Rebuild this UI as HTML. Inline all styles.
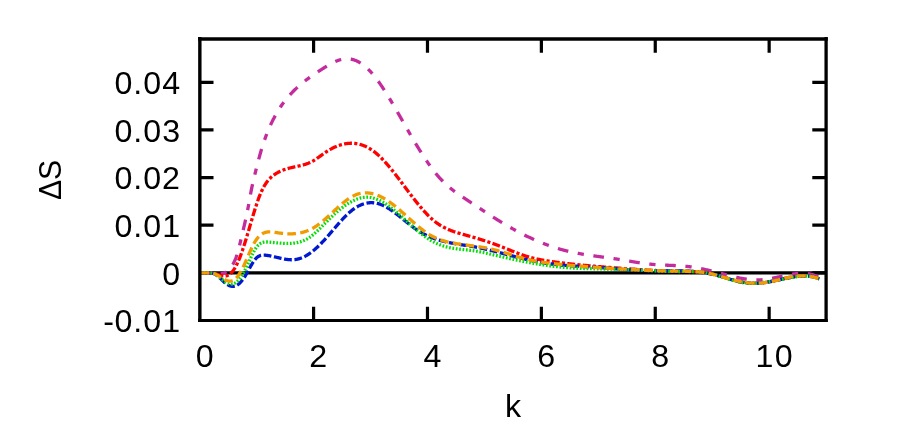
<!DOCTYPE html>
<html lang="en"><head><meta charset="utf-8"><title>ΔS vs k</title>
<style>
html,body{margin:0;padding:0;background:#fff;}
body{width:905px;height:429px;overflow:hidden;}
svg{display:block;will-change:transform;}
text{font-family:"Liberation Sans",sans-serif;font-size:32.2px;fill:#000;}
.c{fill:none;stroke-linecap:butt;stroke-linejoin:round;}
.f{fill:none;stroke:#000;stroke-width:3.2;stroke-linecap:butt;stroke-linejoin:miter;}
</style></head><body>
<svg width="905" height="429" viewBox="0 0 905 429">
<rect width="905" height="429" fill="#fff"/>
<path class="f" d="M313.59,320.45 v-13.8 M313.59,38.85 v13.8 M427.48,320.45 v-13.8 M427.48,38.85 v13.8 M541.37,320.45 v-13.8 M541.37,38.85 v13.8 M655.26,320.45 v-13.8 M655.26,38.85 v13.8 M769.15,320.45 v-13.8 M769.15,38.85 v13.8 M199.7,272.85 h13.8 M826.1,272.85 h-13.8 M199.7,225.21 h13.8 M826.1,225.21 h-13.8 M199.7,177.57 h13.8 M826.1,177.57 h-13.8 M199.7,129.93 h13.8 M826.1,129.93 h-13.8 M199.7,82.29 h13.8 M826.1,82.29 h-13.8"/>
<path class="f" style="stroke-width:3.3" d="M199.7,272.85 H826.1"/>
<path class="c" stroke="#c42c9e" stroke-width="3.3" stroke-dasharray="10.7 9.63 6.25 9.62" stroke-dashoffset="0" d="M200.30,272.85 L200.80,272.85 L201.30,272.85 L201.80,272.85 L202.30,272.85 L202.80,272.85 L203.30,272.85 L203.80,272.85 L204.30,272.85 L204.80,272.85 L205.30,272.85 L205.80,272.85 L206.30,272.85 L206.80,272.85 L207.30,272.85 L207.80,272.85 L208.30,272.85 L208.80,272.85 L209.30,272.85 L209.80,272.85 L210.30,272.85 L210.80,272.86 L211.30,272.87 L211.80,272.88 L212.30,272.90 L212.80,272.93 L213.30,272.96 L213.80,273.00 L214.30,273.05 L214.80,273.11 L215.30,273.18 L215.80,273.24 L216.30,273.31 L216.80,273.38 L217.30,273.44 L217.80,273.51 L218.30,273.56 L218.80,273.61 L219.30,273.64 L219.80,273.66 L220.30,273.67 L220.80,273.66 L221.30,273.63 L221.80,273.58 L222.30,273.50 L222.80,273.40 L223.30,273.27 L223.80,273.12 L224.30,272.93 L224.80,272.71 L225.30,272.45 L225.80,272.17 L226.30,271.85 L226.80,271.49 L227.30,271.10 L227.80,270.67 L228.30,270.21 L228.80,269.71 L229.30,269.17 L229.80,268.60 L230.30,267.99 L230.80,267.33 L231.30,266.64 L231.80,265.91 L232.30,265.13 L232.80,264.32 L233.30,263.46 L233.80,262.54 L234.30,261.55 L234.80,260.49 L235.30,259.33 L235.80,258.08 L236.30,256.71 L236.80,255.23 L237.30,253.62 L237.80,251.91 L238.30,250.12 L238.80,248.24 L239.30,246.30 L239.80,244.31 L240.30,242.29 L240.80,240.23 L241.30,238.15 L241.80,236.05 L242.30,233.93 L242.80,231.79 L243.30,229.64 L243.80,227.47 L244.30,225.30 L244.80,223.11 L245.30,220.91 L245.80,218.67 L246.30,216.38 L246.80,214.03 L247.30,211.62 L247.80,209.11 L248.30,206.51 L248.80,203.82 L249.30,201.05 L249.80,198.26 L250.30,195.49 L250.80,192.77 L251.30,190.16 L251.80,187.68 L252.30,185.31 L252.80,183.04 L253.30,180.85 L253.80,178.73 L254.30,176.67 L254.80,174.64 L255.30,172.64 L255.80,170.64 L256.30,168.65 L256.80,166.66 L257.30,164.70 L257.80,162.75 L258.30,160.82 L258.80,158.93 L259.30,157.07 L259.80,155.25 L260.30,153.47 L260.80,151.73 L261.30,150.04 L261.80,148.38 L262.30,146.77 L262.80,145.20 L263.30,143.66 L263.80,142.16 L264.30,140.70 L264.80,139.27 L265.30,137.88 L265.80,136.52 L266.30,135.19 L266.80,133.89 L267.30,132.62 L267.80,131.38 L268.30,130.17 L268.80,128.98 L269.30,127.82 L269.80,126.69 L270.30,125.58 L270.80,124.49 L271.30,123.42 L271.80,122.38 L272.30,121.35 L272.80,120.35 L273.30,119.36 L273.80,118.39 L274.30,117.43 L274.80,116.50 L275.30,115.58 L275.80,114.67 L276.30,113.79 L276.80,112.92 L277.30,112.06 L277.80,111.22 L278.30,110.40 L278.80,109.59 L279.30,108.80 L279.80,108.02 L280.30,107.25 L280.80,106.50 L281.30,105.76 L281.80,105.03 L282.30,104.32 L282.80,103.62 L283.30,102.93 L283.80,102.26 L284.30,101.59 L284.80,100.94 L285.30,100.30 L285.80,99.67 L286.30,99.04 L286.80,98.43 L287.30,97.83 L287.80,97.24 L288.30,96.66 L288.80,96.08 L289.30,95.52 L289.80,94.96 L290.30,94.41 L290.80,93.87 L291.30,93.34 L291.80,92.81 L292.30,92.29 L292.80,91.78 L293.30,91.27 L293.80,90.77 L294.30,90.28 L294.80,89.79 L295.30,89.31 L295.80,88.83 L296.30,88.36 L296.80,87.89 L297.30,87.43 L297.80,86.97 L298.30,86.52 L298.80,86.08 L299.30,85.64 L299.80,85.20 L300.30,84.77 L300.80,84.34 L301.30,83.92 L301.80,83.51 L302.30,83.09 L302.80,82.68 L303.30,82.28 L303.80,81.88 L304.30,81.48 L304.80,81.09 L305.30,80.70 L305.80,80.31 L306.30,79.93 L306.80,79.55 L307.30,79.18 L307.80,78.81 L308.30,78.44 L308.80,78.07 L309.30,77.71 L309.80,77.35 L310.30,76.99 L310.80,76.64 L311.30,76.28 L311.80,75.93 L312.30,75.59 L312.80,75.24 L313.30,74.90 L313.80,74.56 L314.30,74.22 L314.80,73.88 L315.30,73.54 L315.80,73.21 L316.30,72.87 L316.80,72.54 L317.30,72.21 L317.80,71.88 L318.30,71.55 L318.80,71.23 L319.30,70.90 L319.80,70.57 L320.30,70.25 L320.80,69.92 L321.30,69.60 L321.80,69.28 L322.30,68.95 L322.80,68.63 L323.30,68.31 L323.80,67.99 L324.30,67.67 L324.80,67.36 L325.30,67.04 L325.80,66.73 L326.30,66.42 L326.80,66.12 L327.30,65.81 L327.80,65.51 L328.30,65.22 L328.80,64.92 L329.30,64.63 L329.80,64.35 L330.30,64.07 L330.80,63.79 L331.30,63.52 L331.80,63.25 L332.30,62.99 L332.80,62.74 L333.30,62.49 L333.80,62.24 L334.30,62.01 L334.80,61.78 L335.30,61.55 L335.80,61.33 L336.30,61.12 L336.80,60.92 L337.30,60.72 L337.80,60.54 L338.30,60.36 L338.80,60.18 L339.30,60.02 L339.80,59.87 L340.30,59.72 L340.80,59.58 L341.30,59.46 L341.80,59.34 L342.30,59.23 L342.80,59.13 L343.30,59.05 L343.80,58.97 L344.30,58.90 L344.80,58.85 L345.30,58.80 L345.80,58.77 L346.30,58.75 L346.80,58.74 L347.30,58.75 L347.80,58.76 L348.30,58.79 L348.80,58.83 L349.30,58.88 L349.80,58.94 L350.30,59.01 L350.80,59.10 L351.30,59.19 L351.80,59.30 L352.30,59.42 L352.80,59.55 L353.30,59.70 L353.80,59.85 L354.30,60.02 L354.80,60.19 L355.30,60.38 L355.80,60.59 L356.30,60.80 L356.80,61.02 L357.30,61.26 L357.80,61.51 L358.30,61.77 L358.80,62.04 L359.30,62.32 L359.80,62.61 L360.30,62.92 L360.80,63.23 L361.30,63.56 L361.80,63.90 L362.30,64.25 L362.80,64.61 L363.30,64.99 L363.80,65.37 L364.30,65.77 L364.80,66.17 L365.30,66.59 L365.80,67.02 L366.30,67.46 L366.80,67.92 L367.30,68.38 L367.80,68.85 L368.30,69.34 L368.80,69.84 L369.30,70.35 L369.80,70.87 L370.30,71.40 L370.80,71.94 L371.30,72.49 L371.80,73.06 L372.30,73.63 L372.80,74.22 L373.30,74.81 L373.80,75.42 L374.30,76.03 L374.80,76.65 L375.30,77.29 L375.80,77.93 L376.30,78.58 L376.80,79.24 L377.30,79.91 L377.80,80.59 L378.30,81.27 L378.80,81.97 L379.30,82.67 L379.80,83.38 L380.30,84.10 L380.80,84.82 L381.30,85.56 L381.80,86.30 L382.30,87.04 L382.80,87.80 L383.30,88.56 L383.80,89.32 L384.30,90.09 L384.80,90.87 L385.30,91.66 L385.80,92.45 L386.30,93.24 L386.80,94.04 L387.30,94.85 L387.80,95.66 L388.30,96.47 L388.80,97.29 L389.30,98.12 L389.80,98.95 L390.30,99.78 L390.80,100.62 L391.30,101.46 L391.80,102.30 L392.30,103.15 L392.80,104.00 L393.30,104.85 L393.80,105.71 L394.30,106.57 L394.80,107.43 L395.30,108.29 L395.80,109.16 L396.30,110.02 L396.80,110.89 L397.30,111.76 L397.80,112.64 L398.30,113.51 L398.80,114.38 L399.30,115.26 L399.80,116.13 L400.30,117.01 L400.80,117.89 L401.30,118.77 L401.80,119.64 L402.30,120.52 L402.80,121.40 L403.30,122.27 L403.80,123.15 L404.30,124.03 L404.80,124.90 L405.30,125.78 L405.80,126.65 L406.30,127.53 L406.80,128.40 L407.30,129.27 L407.80,130.14 L408.30,131.01 L408.80,131.88 L409.30,132.74 L409.80,133.61 L410.30,134.47 L410.80,135.33 L411.30,136.19 L411.80,137.04 L412.30,137.90 L412.80,138.75 L413.30,139.60 L413.80,140.45 L414.30,141.29 L414.80,142.13 L415.30,142.97 L415.80,143.80 L416.30,144.64 L416.80,145.46 L417.30,146.29 L417.80,147.11 L418.30,147.93 L418.80,148.75 L419.30,149.56 L419.80,150.36 L420.30,151.17 L420.80,151.96 L421.30,152.76 L421.80,153.55 L422.30,154.33 L422.80,155.12 L423.30,155.89 L423.80,156.66 L424.30,157.43 L424.80,158.19 L425.30,158.95 L425.80,159.70 L426.30,160.44 L426.80,161.18 L427.30,161.92 L427.80,162.64 L428.30,163.37 L428.80,164.08 L429.30,164.79 L429.80,165.50 L430.30,166.20 L430.80,166.89 L431.30,167.57 L431.80,168.25 L432.30,168.92 L432.80,169.59 L433.30,170.24 L433.80,170.89 L434.30,171.54 L434.80,172.17 L435.30,172.80 L435.80,173.42 L436.30,174.04 L436.80,174.64 L437.30,175.24 L437.80,175.83 L438.30,176.41 L438.80,176.98 L439.30,177.55 L439.80,178.10 L440.30,178.65 L440.80,179.19 L441.30,179.72 L441.80,180.24 L442.30,180.76 L442.80,181.27 L443.30,181.77 L443.80,182.26 L444.30,182.75 L444.80,183.23 L445.30,183.70 L445.80,184.16 L446.30,184.62 L446.80,185.07 L447.30,185.52 L447.80,185.96 L448.30,186.39 L448.80,186.82 L449.30,187.25 L449.80,187.66 L450.30,188.08 L450.80,188.48 L451.30,188.89 L451.80,189.28 L452.30,189.68 L452.80,190.07 L453.30,190.45 L453.80,190.83 L454.30,191.21 L454.80,191.58 L455.30,191.95 L455.80,192.31 L456.30,192.67 L456.80,193.03 L457.30,193.39 L457.80,193.74 L458.30,194.09 L458.80,194.44 L459.30,194.78 L459.80,195.13 L460.30,195.47 L460.80,195.81 L461.30,196.14 L461.80,196.48 L462.30,196.81 L462.80,197.15 L463.30,197.48 L463.80,197.81 L464.30,198.14 L464.80,198.47 L465.30,198.80 L465.80,199.13 L466.30,199.46 L466.80,199.79 L467.30,200.11 L467.80,200.44 L468.30,200.77 L468.80,201.10 L469.30,201.43 L469.80,201.76 L470.30,202.10 L470.80,202.43 L471.30,202.76 L471.80,203.09 L472.30,203.42 L472.80,203.75 L473.30,204.08 L473.80,204.42 L474.30,204.75 L474.80,205.08 L475.30,205.41 L475.80,205.74 L476.30,206.08 L476.80,206.41 L477.30,206.74 L477.80,207.07 L478.30,207.41 L478.80,207.74 L479.30,208.07 L479.80,208.40 L480.30,208.73 L480.80,209.06 L481.30,209.39 L481.80,209.72 L482.30,210.05 L482.80,210.38 L483.30,210.71 L483.80,211.04 L484.30,211.37 L484.80,211.70 L485.30,212.03 L485.80,212.36 L486.30,212.68 L486.80,213.01 L487.30,213.34 L487.80,213.66 L488.30,213.99 L488.80,214.31 L489.30,214.64 L489.80,214.96 L490.30,215.28 L490.80,215.61 L491.30,215.93 L491.80,216.25 L492.30,216.57 L492.80,216.89 L493.30,217.21 L493.80,217.53 L494.30,217.84 L494.80,218.16 L495.30,218.47 L495.80,218.79 L496.30,219.10 L496.80,219.42 L497.30,219.73 L497.80,220.04 L498.30,220.35 L498.80,220.66 L499.30,220.96 L499.80,221.27 L500.30,221.58 L500.80,221.88 L501.30,222.19 L501.80,222.49 L502.30,222.79 L502.80,223.09 L503.30,223.39 L503.80,223.69 L504.30,223.98 L504.80,224.28 L505.30,224.58 L505.80,224.87 L506.30,225.16 L506.80,225.45 L507.30,225.74 L507.80,226.03 L508.30,226.32 L508.80,226.61 L509.30,226.90 L509.80,227.18 L510.30,227.46 L510.80,227.75 L511.30,228.03 L511.80,228.31 L512.30,228.59 L512.80,228.87 L513.30,229.14 L513.80,229.42 L514.30,229.69 L514.80,229.97 L515.30,230.24 L515.80,230.51 L516.30,230.78 L516.80,231.05 L517.30,231.32 L517.80,231.58 L518.30,231.85 L518.80,232.11 L519.30,232.37 L519.80,232.63 L520.30,232.89 L520.80,233.15 L521.30,233.41 L521.80,233.67 L522.30,233.92 L522.80,234.17 L523.30,234.43 L523.80,234.68 L524.30,234.93 L524.80,235.18 L525.30,235.42 L525.80,235.67 L526.30,235.91 L526.80,236.16 L527.30,236.40 L527.80,236.64 L528.30,236.88 L528.80,237.12 L529.30,237.35 L529.80,237.59 L530.30,237.82 L530.80,238.06 L531.30,238.29 L531.80,238.52 L532.30,238.75 L532.80,238.97 L533.30,239.20 L533.80,239.42 L534.30,239.65 L534.80,239.87 L535.30,240.09 L535.80,240.31 L536.30,240.53 L536.80,240.74 L537.30,240.96 L537.80,241.17 L538.30,241.38 L538.80,241.59 L539.30,241.80 L539.80,242.01 L540.30,242.21 L540.80,242.42 L541.30,242.62 L541.80,242.82 L542.30,243.02 L542.80,243.22 L543.30,243.42 L543.80,243.62 L544.30,243.81 L544.80,244.00 L545.30,244.20 L545.80,244.39 L546.30,244.57 L546.80,244.76 L547.30,244.95 L547.80,245.13 L548.30,245.31 L548.80,245.49 L549.30,245.67 L549.80,245.85 L550.30,246.03 L550.80,246.20 L551.30,246.37 L551.80,246.55 L552.30,246.72 L552.80,246.88 L553.30,247.05 L553.80,247.22 L554.30,247.38 L554.80,247.54 L555.30,247.70 L555.80,247.86 L556.30,248.02 L556.80,248.17 L557.30,248.33 L557.80,248.48 L558.30,248.63 L558.80,248.78 L559.30,248.93 L559.80,249.07 L560.30,249.22 L560.80,249.36 L561.30,249.50 L561.80,249.64 L562.30,249.78 L562.80,249.91 L563.30,250.05 L563.80,250.18 L564.30,250.31 L564.80,250.44 L565.30,250.57 L565.80,250.69 L566.30,250.82 L566.80,250.94 L567.30,251.06 L567.80,251.18 L568.30,251.30 L568.80,251.42 L569.30,251.53 L569.80,251.65 L570.30,251.76 L570.80,251.87 L571.30,251.98 L571.80,252.09 L572.30,252.20 L572.80,252.30 L573.30,252.41 L573.80,252.51 L574.30,252.61 L574.80,252.71 L575.30,252.81 L575.80,252.91 L576.30,253.01 L576.80,253.10 L577.30,253.20 L577.80,253.29 L578.30,253.39 L578.80,253.48 L579.30,253.57 L579.80,253.66 L580.30,253.75 L580.80,253.83 L581.30,253.92 L581.80,254.01 L582.30,254.09 L582.80,254.18 L583.30,254.26 L583.80,254.34 L584.30,254.43 L584.80,254.51 L585.30,254.59 L585.80,254.67 L586.30,254.74 L586.80,254.82 L587.30,254.90 L587.80,254.98 L588.30,255.05 L588.80,255.13 L589.30,255.20 L589.80,255.28 L590.30,255.35 L590.80,255.43 L591.30,255.50 L591.80,255.57 L592.30,255.64 L592.80,255.71 L593.30,255.79 L593.80,255.86 L594.30,255.93 L594.80,256.00 L595.30,256.07 L595.80,256.14 L596.30,256.20 L596.80,256.27 L597.30,256.34 L597.80,256.41 L598.30,256.48 L598.80,256.55 L599.30,256.61 L599.80,256.68 L600.30,256.75 L600.80,256.82 L601.30,256.89 L601.80,256.95 L602.30,257.02 L602.80,257.09 L603.30,257.16 L603.80,257.22 L604.30,257.29 L604.80,257.36 L605.30,257.43 L605.80,257.49 L606.30,257.56 L606.80,257.63 L607.30,257.70 L607.80,257.77 L608.30,257.84 L608.80,257.91 L609.30,257.98 L609.80,258.04 L610.30,258.12 L610.80,258.19 L611.30,258.26 L611.80,258.33 L612.30,258.40 L612.80,258.47 L613.30,258.54 L613.80,258.62 L614.30,258.69 L614.80,258.77 L615.30,258.84 L615.80,258.92 L616.30,258.99 L616.80,259.07 L617.30,259.14 L617.80,259.22 L618.30,259.30 L618.80,259.38 L619.30,259.46 L619.80,259.54 L620.30,259.62 L620.80,259.70 L621.30,259.78 L621.80,259.86 L622.30,259.95 L622.80,260.03 L623.30,260.11 L623.80,260.20 L624.30,260.28 L624.80,260.36 L625.30,260.45 L625.80,260.53 L626.30,260.61 L626.80,260.70 L627.30,260.78 L627.80,260.87 L628.30,260.95 L628.80,261.04 L629.30,261.12 L629.80,261.20 L630.30,261.29 L630.80,261.37 L631.30,261.45 L631.80,261.54 L632.30,261.62 L632.80,261.70 L633.30,261.79 L633.80,261.87 L634.30,261.95 L634.80,262.03 L635.30,262.11 L635.80,262.19 L636.30,262.27 L636.80,262.35 L637.30,262.43 L637.80,262.51 L638.30,262.58 L638.80,262.66 L639.30,262.74 L639.80,262.81 L640.30,262.89 L640.80,262.96 L641.30,263.03 L641.80,263.10 L642.30,263.17 L642.80,263.24 L643.30,263.31 L643.80,263.38 L644.30,263.45 L644.80,263.51 L645.30,263.58 L645.80,263.64 L646.30,263.70 L646.80,263.77 L647.30,263.83 L647.80,263.88 L648.30,263.94 L648.80,264.00 L649.30,264.05 L649.80,264.11 L650.30,264.16 L650.80,264.21 L651.30,264.26 L651.80,264.30 L652.30,264.35 L652.80,264.39 L653.30,264.44 L653.80,264.48 L654.30,264.52 L654.80,264.56 L655.30,264.59 L655.80,264.63 L656.30,264.67 L656.80,264.70 L657.30,264.73 L657.80,264.76 L658.30,264.79 L658.80,264.82 L659.30,264.85 L659.80,264.88 L660.30,264.91 L660.80,264.93 L661.30,264.96 L661.80,264.98 L662.30,265.01 L662.80,265.03 L663.30,265.05 L663.80,265.08 L664.30,265.10 L664.80,265.12 L665.30,265.14 L665.80,265.16 L666.30,265.18 L666.80,265.20 L667.30,265.23 L667.80,265.25 L668.30,265.27 L668.80,265.29 L669.30,265.31 L669.80,265.33 L670.30,265.35 L670.80,265.37 L671.30,265.39 L671.80,265.41 L672.30,265.43 L672.80,265.45 L673.30,265.48 L673.80,265.50 L674.30,265.52 L674.80,265.55 L675.30,265.57 L675.80,265.59 L676.30,265.62 L676.80,265.65 L677.30,265.67 L677.80,265.70 L678.30,265.73 L678.80,265.76 L679.30,265.79 L679.80,265.82 L680.30,265.86 L680.80,265.89 L681.30,265.93 L681.80,265.96 L682.30,266.00 L682.80,266.04 L683.30,266.08 L683.80,266.12 L684.30,266.16 L684.80,266.21 L685.30,266.26 L685.80,266.30 L686.30,266.35 L686.80,266.40 L687.30,266.46 L687.80,266.51 L688.30,266.57 L688.80,266.63 L689.30,266.69 L689.80,266.75 L690.30,266.82 L690.80,266.88 L691.30,266.95 L691.80,267.02 L692.30,267.09 L692.80,267.17 L693.30,267.24 L693.80,267.32 L694.30,267.40 L694.80,267.48 L695.30,267.56 L695.80,267.65 L696.30,267.73 L696.80,267.82 L697.30,267.91 L697.80,268.00 L698.30,268.09 L698.80,268.18 L699.30,268.28 L699.80,268.37 L700.30,268.47 L700.80,268.57 L701.30,268.67 L701.80,268.77 L702.30,268.88 L702.80,268.98 L703.30,269.09 L703.80,269.19 L704.30,269.30 L704.80,269.41 L705.30,269.52 L705.80,269.63 L706.30,269.74 L706.80,269.86 L707.30,269.97 L707.80,270.09 L708.30,270.20 L708.80,270.32 L709.30,270.44 L709.80,270.56 L710.30,270.68 L710.80,270.80 L711.30,270.92 L711.80,271.04 L712.30,271.16 L712.80,271.29 L713.30,271.41 L713.80,271.53 L714.30,271.66 L714.80,271.79 L715.30,271.91 L715.80,272.04 L716.30,272.17 L716.80,272.29 L717.30,272.42 L717.80,272.55 L718.30,272.68 L718.80,272.81 L719.30,272.94 L719.80,273.07 L720.30,273.20 L720.80,273.33 L721.30,273.46 L721.80,273.59 L722.30,273.72 L722.80,273.85 L723.30,273.98 L723.80,274.11 L724.30,274.25 L724.80,274.38 L725.30,274.51 L725.80,274.64 L726.30,274.77 L726.80,274.90 L727.30,275.03 L727.80,275.16 L728.30,275.29 L728.80,275.42 L729.30,275.55 L729.80,275.68 L730.30,275.80 L730.80,275.93 L731.30,276.05 L731.80,276.18 L732.30,276.30 L732.80,276.43 L733.30,276.55 L733.80,276.67 L734.30,276.79 L734.80,276.91 L735.30,277.02 L735.80,277.14 L736.30,277.25 L736.80,277.37 L737.30,277.48 L737.80,277.59 L738.30,277.69 L738.80,277.80 L739.30,277.91 L739.80,278.01 L740.30,278.11 L740.80,278.21 L741.30,278.30 L741.80,278.40 L742.30,278.49 L742.80,278.58 L743.30,278.67 L743.80,278.75 L744.30,278.84 L744.80,278.92 L745.30,279.00 L745.80,279.07 L746.30,279.14 L746.80,279.21 L747.30,279.28 L747.80,279.35 L748.30,279.41 L748.80,279.47 L749.30,279.52 L749.80,279.57 L750.30,279.62 L750.80,279.67 L751.30,279.71 L751.80,279.75 L752.30,279.79 L752.80,279.82 L753.30,279.85 L753.80,279.87 L754.30,279.90 L754.80,279.92 L755.30,279.93 L755.80,279.94 L756.30,279.95 L756.80,279.95 L757.30,279.95 L757.80,279.94 L758.30,279.93 L758.80,279.92 L759.30,279.90 L759.80,279.88 L760.30,279.85 L760.80,279.82 L761.30,279.79 L761.80,279.75 L762.30,279.71 L762.80,279.66 L763.30,279.61 L763.80,279.56 L764.30,279.50 L764.80,279.44 L765.30,279.38 L765.80,279.31 L766.30,279.24 L766.80,279.17 L767.30,279.10 L767.80,279.02 L768.30,278.94 L768.80,278.86 L769.30,278.77 L769.80,278.69 L770.30,278.60 L770.80,278.51 L771.30,278.41 L771.80,278.32 L772.30,278.22 L772.80,278.13 L773.30,278.03 L773.80,277.92 L774.30,277.82 L774.80,277.72 L775.30,277.62 L775.80,277.51 L776.30,277.40 L776.80,277.30 L777.30,277.19 L777.80,277.08 L778.30,276.97 L778.80,276.87 L779.30,276.76 L779.80,276.65 L780.30,276.54 L780.80,276.43 L781.30,276.32 L781.80,276.21 L782.30,276.10 L782.80,276.00 L783.30,275.89 L783.80,275.78 L784.30,275.68 L784.80,275.57 L785.30,275.47 L785.80,275.37 L786.30,275.27 L786.80,275.17 L787.30,275.07 L787.80,274.97 L788.30,274.88 L788.80,274.79 L789.30,274.69 L789.80,274.61 L790.30,274.52 L790.80,274.43 L791.30,274.35 L791.80,274.27 L792.30,274.19 L792.80,274.12 L793.30,274.05 L793.80,273.98 L794.30,273.91 L794.80,273.85 L795.30,273.79 L795.80,273.73 L796.30,273.68 L796.80,273.63 L797.30,273.58 L797.80,273.54 L798.30,273.50 L798.80,273.46 L799.30,273.43 L799.80,273.40 L800.30,273.38 L800.80,273.37 L801.30,273.35 L801.80,273.35 L802.30,273.34 L802.80,273.35 L803.30,273.36 L803.80,273.37 L804.30,273.39 L804.80,273.42 L805.30,273.45 L805.80,273.49 L806.30,273.53 L806.80,273.58 L807.30,273.64 L807.80,273.71 L808.30,273.78 L808.80,273.86 L809.30,273.94 L809.80,274.04 L810.30,274.14 L810.80,274.25 L811.30,274.37 L811.80,274.49 L812.30,274.63 L812.80,274.77 L813.30,274.92 L813.80,275.08 L814.30,275.25 L814.80,275.43 L815.30,275.61 L815.80,275.81 L816.30,276.02 L816.80,276.23 L817.30,276.46 L817.80,276.69 L818.30,276.94 L818.80,277.20 L819.30,277.46"/>
<path class="c" stroke="#ff0000" stroke-width="3.3" stroke-dasharray="7.88 2.27 3.15 2.27" stroke-dashoffset="0" d="M200.30,272.85 L200.80,272.85 L201.30,272.85 L201.80,272.85 L202.30,272.85 L202.80,272.85 L203.30,272.85 L203.80,272.85 L204.30,272.85 L204.80,272.85 L205.30,272.85 L205.80,272.85 L206.30,272.85 L206.80,272.85 L207.30,272.85 L207.80,272.85 L208.30,272.84 L208.80,272.84 L209.30,272.84 L209.80,272.85 L210.30,272.86 L210.80,272.88 L211.30,272.90 L211.80,272.94 L212.30,272.98 L212.80,273.04 L213.30,273.12 L213.80,273.21 L214.30,273.31 L214.80,273.44 L215.30,273.58 L215.80,273.73 L216.30,273.89 L216.80,274.06 L217.30,274.24 L217.80,274.42 L218.30,274.60 L218.80,274.78 L219.30,274.96 L219.80,275.13 L220.30,275.30 L220.80,275.45 L221.30,275.59 L221.80,275.72 L222.30,275.84 L222.80,275.93 L223.30,276.00 L223.80,276.05 L224.30,276.08 L224.80,276.08 L225.30,276.05 L225.80,275.98 L226.30,275.88 L226.80,275.75 L227.30,275.58 L227.80,275.37 L228.30,275.12 L228.80,274.83 L229.30,274.50 L229.80,274.14 L230.30,273.73 L230.80,273.27 L231.30,272.78 L231.80,272.24 L232.30,271.66 L232.80,271.04 L233.30,270.37 L233.80,269.65 L234.30,268.89 L234.80,268.08 L235.30,267.22 L235.80,266.32 L236.30,265.38 L236.80,264.39 L237.30,263.35 L237.80,262.28 L238.30,261.16 L238.80,260.00 L239.30,258.80 L239.80,257.56 L240.30,256.28 L240.80,254.96 L241.30,253.61 L241.80,252.21 L242.30,250.78 L242.80,249.32 L243.30,247.83 L243.80,246.31 L244.30,244.76 L244.80,243.18 L245.30,241.58 L245.80,239.97 L246.30,238.33 L246.80,236.68 L247.30,235.01 L247.80,233.33 L248.30,231.65 L248.80,229.95 L249.30,228.25 L249.80,226.55 L250.30,224.85 L250.80,223.14 L251.30,221.44 L251.80,219.75 L252.30,218.07 L252.80,216.39 L253.30,214.73 L253.80,213.08 L254.30,211.45 L254.80,209.83 L255.30,208.24 L255.80,206.68 L256.30,205.14 L256.80,203.63 L257.30,202.15 L257.80,200.71 L258.30,199.31 L258.80,197.94 L259.30,196.62 L259.80,195.35 L260.30,194.12 L260.80,192.94 L261.30,191.81 L261.80,190.73 L262.30,189.68 L262.80,188.69 L263.30,187.73 L263.80,186.81 L264.30,185.94 L264.80,185.10 L265.30,184.30 L265.80,183.53 L266.30,182.80 L266.80,182.10 L267.30,181.44 L267.80,180.80 L268.30,180.19 L268.80,179.62 L269.30,179.06 L269.80,178.54 L270.30,178.03 L270.80,177.55 L271.30,177.09 L271.80,176.66 L272.30,176.24 L272.80,175.83 L273.30,175.45 L273.80,175.08 L274.30,174.72 L274.80,174.38 L275.30,174.04 L275.80,173.72 L276.30,173.41 L276.80,173.11 L277.30,172.82 L277.80,172.53 L278.30,172.26 L278.80,172.00 L279.30,171.75 L279.80,171.50 L280.30,171.26 L280.80,171.03 L281.30,170.81 L281.80,170.60 L282.30,170.39 L282.80,170.19 L283.30,170.00 L283.80,169.82 L284.30,169.64 L284.80,169.47 L285.30,169.30 L285.80,169.14 L286.30,168.98 L286.80,168.83 L287.30,168.68 L287.80,168.54 L288.30,168.40 L288.80,168.27 L289.30,168.14 L289.80,168.01 L290.30,167.89 L290.80,167.76 L291.30,167.65 L291.80,167.53 L292.30,167.42 L292.80,167.30 L293.30,167.19 L293.80,167.09 L294.30,166.98 L294.80,166.87 L295.30,166.76 L295.80,166.66 L296.30,166.55 L296.80,166.44 L297.30,166.34 L297.80,166.23 L298.30,166.12 L298.80,166.01 L299.30,165.90 L299.80,165.78 L300.30,165.67 L300.80,165.55 L301.30,165.43 L301.80,165.31 L302.30,165.18 L302.80,165.05 L303.30,164.91 L303.80,164.77 L304.30,164.63 L304.80,164.48 L305.30,164.32 L305.80,164.16 L306.30,164.00 L306.80,163.82 L307.30,163.64 L307.80,163.45 L308.30,163.26 L308.80,163.05 L309.30,162.84 L309.80,162.62 L310.30,162.39 L310.80,162.16 L311.30,161.91 L311.80,161.65 L312.30,161.38 L312.80,161.10 L313.30,160.81 L313.80,160.51 L314.30,160.21 L314.80,159.89 L315.30,159.57 L315.80,159.24 L316.30,158.90 L316.80,158.56 L317.30,158.21 L317.80,157.86 L318.30,157.50 L318.80,157.15 L319.30,156.78 L319.80,156.42 L320.30,156.06 L320.80,155.69 L321.30,155.33 L321.80,154.96 L322.30,154.60 L322.80,154.24 L323.30,153.89 L323.80,153.53 L324.30,153.18 L324.80,152.84 L325.30,152.50 L325.80,152.16 L326.30,151.83 L326.80,151.51 L327.30,151.19 L327.80,150.88 L328.30,150.57 L328.80,150.27 L329.30,149.98 L329.80,149.69 L330.30,149.40 L330.80,149.12 L331.30,148.85 L331.80,148.59 L332.30,148.33 L332.80,148.07 L333.30,147.82 L333.80,147.58 L334.30,147.35 L334.80,147.12 L335.30,146.89 L335.80,146.68 L336.30,146.47 L336.80,146.26 L337.30,146.06 L337.80,145.87 L338.30,145.69 L338.80,145.51 L339.30,145.34 L339.80,145.17 L340.30,145.01 L340.80,144.86 L341.30,144.71 L341.80,144.57 L342.30,144.44 L342.80,144.31 L343.30,144.20 L343.80,144.08 L344.30,143.98 L344.80,143.88 L345.30,143.79 L345.80,143.71 L346.30,143.63 L346.80,143.56 L347.30,143.50 L347.80,143.44 L348.30,143.39 L348.80,143.35 L349.30,143.32 L349.80,143.29 L350.30,143.27 L350.80,143.26 L351.30,143.25 L351.80,143.26 L352.30,143.27 L352.80,143.29 L353.30,143.31 L353.80,143.35 L354.30,143.39 L354.80,143.44 L355.30,143.49 L355.80,143.56 L356.30,143.63 L356.80,143.71 L357.30,143.80 L357.80,143.89 L358.30,144.00 L358.80,144.11 L359.30,144.23 L359.80,144.36 L360.30,144.49 L360.80,144.64 L361.30,144.79 L361.80,144.95 L362.30,145.12 L362.80,145.30 L363.30,145.48 L363.80,145.68 L364.30,145.88 L364.80,146.09 L365.30,146.31 L365.80,146.54 L366.30,146.78 L366.80,147.02 L367.30,147.28 L367.80,147.54 L368.30,147.81 L368.80,148.09 L369.30,148.38 L369.80,148.68 L370.30,148.99 L370.80,149.30 L371.30,149.63 L371.80,149.96 L372.30,150.31 L372.80,150.66 L373.30,151.02 L373.80,151.39 L374.30,151.77 L374.80,152.16 L375.30,152.56 L375.80,152.97 L376.30,153.38 L376.80,153.81 L377.30,154.24 L377.80,154.68 L378.30,155.13 L378.80,155.59 L379.30,156.06 L379.80,156.54 L380.30,157.02 L380.80,157.51 L381.30,158.01 L381.80,158.51 L382.30,159.02 L382.80,159.54 L383.30,160.07 L383.80,160.60 L384.30,161.14 L384.80,161.69 L385.30,162.24 L385.80,162.79 L386.30,163.36 L386.80,163.93 L387.30,164.50 L387.80,165.08 L388.30,165.66 L388.80,166.25 L389.30,166.85 L389.80,167.45 L390.30,168.05 L390.80,168.66 L391.30,169.27 L391.80,169.89 L392.30,170.51 L392.80,171.14 L393.30,171.76 L393.80,172.39 L394.30,173.03 L394.80,173.67 L395.30,174.31 L395.80,174.95 L396.30,175.60 L396.80,176.25 L397.30,176.90 L397.80,177.55 L398.30,178.21 L398.80,178.87 L399.30,179.52 L399.80,180.19 L400.30,180.85 L400.80,181.51 L401.30,182.17 L401.80,182.84 L402.30,183.51 L402.80,184.17 L403.30,184.84 L403.80,185.51 L404.30,186.17 L404.80,186.84 L405.30,187.51 L405.80,188.18 L406.30,188.84 L406.80,189.51 L407.30,190.17 L407.80,190.84 L408.30,191.50 L408.80,192.16 L409.30,192.83 L409.80,193.49 L410.30,194.14 L410.80,194.80 L411.30,195.45 L411.80,196.11 L412.30,196.76 L412.80,197.40 L413.30,198.05 L413.80,198.69 L414.30,199.33 L414.80,199.97 L415.30,200.60 L415.80,201.23 L416.30,201.86 L416.80,202.48 L417.30,203.10 L417.80,203.72 L418.30,204.33 L418.80,204.94 L419.30,205.55 L419.80,206.15 L420.30,206.74 L420.80,207.33 L421.30,207.92 L421.80,208.50 L422.30,209.08 L422.80,209.65 L423.30,210.22 L423.80,210.78 L424.30,211.33 L424.80,211.88 L425.30,212.42 L425.80,212.96 L426.30,213.49 L426.80,214.02 L427.30,214.53 L427.80,215.05 L428.30,215.55 L428.80,216.05 L429.30,216.54 L429.80,217.02 L430.30,217.50 L430.80,217.97 L431.30,218.43 L431.80,218.88 L432.30,219.33 L432.80,219.76 L433.30,220.19 L433.80,220.61 L434.30,221.02 L434.80,221.43 L435.30,221.82 L435.80,222.21 L436.30,222.59 L436.80,222.96 L437.30,223.32 L437.80,223.67 L438.30,224.01 L438.80,224.35 L439.30,224.68 L439.80,225.00 L440.30,225.31 L440.80,225.62 L441.30,225.92 L441.80,226.21 L442.30,226.50 L442.80,226.78 L443.30,227.05 L443.80,227.32 L444.30,227.58 L444.80,227.84 L445.30,228.08 L445.80,228.33 L446.30,228.56 L446.80,228.80 L447.30,229.02 L447.80,229.25 L448.30,229.46 L448.80,229.67 L449.30,229.88 L449.80,230.08 L450.30,230.28 L450.80,230.48 L451.30,230.67 L451.80,230.85 L452.30,231.04 L452.80,231.22 L453.30,231.39 L453.80,231.57 L454.30,231.73 L454.80,231.90 L455.30,232.07 L455.80,232.23 L456.30,232.38 L456.80,232.54 L457.30,232.70 L457.80,232.85 L458.30,233.00 L458.80,233.15 L459.30,233.29 L459.80,233.44 L460.30,233.58 L460.80,233.73 L461.30,233.87 L461.80,234.01 L462.30,234.15 L462.80,234.29 L463.30,234.43 L463.80,234.57 L464.30,234.71 L464.80,234.85 L465.30,234.99 L465.80,235.13 L466.30,235.27 L466.80,235.41 L467.30,235.55 L467.80,235.69 L468.30,235.83 L468.80,235.97 L469.30,236.12 L469.80,236.26 L470.30,236.40 L470.80,236.55 L471.30,236.69 L471.80,236.84 L472.30,236.98 L472.80,237.13 L473.30,237.27 L473.80,237.42 L474.30,237.57 L474.80,237.71 L475.30,237.86 L475.80,238.01 L476.30,238.16 L476.80,238.31 L477.30,238.46 L477.80,238.61 L478.30,238.76 L478.80,238.92 L479.30,239.07 L479.80,239.22 L480.30,239.38 L480.80,239.53 L481.30,239.69 L481.80,239.85 L482.30,240.00 L482.80,240.16 L483.30,240.32 L483.80,240.48 L484.30,240.64 L484.80,240.80 L485.30,240.96 L485.80,241.13 L486.30,241.29 L486.80,241.46 L487.30,241.62 L487.80,241.79 L488.30,241.96 L488.80,242.12 L489.30,242.29 L489.80,242.46 L490.30,242.64 L490.80,242.81 L491.30,242.98 L491.80,243.16 L492.30,243.33 L492.80,243.51 L493.30,243.68 L493.80,243.86 L494.30,244.04 L494.80,244.22 L495.30,244.41 L495.80,244.59 L496.30,244.77 L496.80,244.96 L497.30,245.14 L497.80,245.33 L498.30,245.52 L498.80,245.71 L499.30,245.90 L499.80,246.09 L500.30,246.29 L500.80,246.48 L501.30,246.68 L501.80,246.87 L502.30,247.07 L502.80,247.27 L503.30,247.47 L503.80,247.67 L504.30,247.87 L504.80,248.07 L505.30,248.28 L505.80,248.48 L506.30,248.68 L506.80,248.89 L507.30,249.09 L507.80,249.29 L508.30,249.50 L508.80,249.70 L509.30,249.90 L509.80,250.11 L510.30,250.31 L510.80,250.51 L511.30,250.71 L511.80,250.92 L512.30,251.12 L512.80,251.32 L513.30,251.52 L513.80,251.72 L514.30,251.91 L514.80,252.11 L515.30,252.31 L515.80,252.50 L516.30,252.70 L516.80,252.89 L517.30,253.08 L517.80,253.27 L518.30,253.46 L518.80,253.65 L519.30,253.83 L519.80,254.01 L520.30,254.20 L520.80,254.38 L521.30,254.55 L521.80,254.73 L522.30,254.90 L522.80,255.08 L523.30,255.25 L523.80,255.41 L524.30,255.58 L524.80,255.74 L525.30,255.90 L525.80,256.06 L526.30,256.21 L526.80,256.36 L527.30,256.51 L527.80,256.66 L528.30,256.81 L528.80,256.95 L529.30,257.09 L529.80,257.23 L530.30,257.36 L530.80,257.50 L531.30,257.63 L531.80,257.76 L532.30,257.89 L532.80,258.01 L533.30,258.14 L533.80,258.26 L534.30,258.38 L534.80,258.49 L535.30,258.61 L535.80,258.72 L536.30,258.83 L536.80,258.95 L537.30,259.05 L537.80,259.16 L538.30,259.26 L538.80,259.37 L539.30,259.47 L539.80,259.57 L540.30,259.67 L540.80,259.76 L541.30,259.86 L541.80,259.95 L542.30,260.05 L542.80,260.14 L543.30,260.23 L543.80,260.32 L544.30,260.40 L544.80,260.49 L545.30,260.57 L545.80,260.66 L546.30,260.74 L546.80,260.82 L547.30,260.90 L547.80,260.98 L548.30,261.06 L548.80,261.13 L549.30,261.21 L549.80,261.28 L550.30,261.36 L550.80,261.43 L551.30,261.50 L551.80,261.58 L552.30,261.65 L552.80,261.72 L553.30,261.79 L553.80,261.86 L554.30,261.92 L554.80,261.99 L555.30,262.06 L555.80,262.12 L556.30,262.19 L556.80,262.26 L557.30,262.32 L557.80,262.39 L558.30,262.45 L558.80,262.51 L559.30,262.58 L559.80,262.64 L560.30,262.70 L560.80,262.77 L561.30,262.83 L561.80,262.89 L562.30,262.95 L562.80,263.01 L563.30,263.07 L563.80,263.13 L564.30,263.19 L564.80,263.25 L565.30,263.31 L565.80,263.37 L566.30,263.43 L566.80,263.48 L567.30,263.54 L567.80,263.60 L568.30,263.66 L568.80,263.71 L569.30,263.77 L569.80,263.82 L570.30,263.88 L570.80,263.94 L571.30,263.99 L571.80,264.04 L572.30,264.10 L572.80,264.15 L573.30,264.21 L573.80,264.26 L574.30,264.31 L574.80,264.37 L575.30,264.42 L575.80,264.47 L576.30,264.52 L576.80,264.57 L577.30,264.62 L577.80,264.68 L578.30,264.73 L578.80,264.78 L579.30,264.83 L579.80,264.88 L580.30,264.93 L580.80,264.98 L581.30,265.02 L581.80,265.07 L582.30,265.12 L582.80,265.17 L583.30,265.22 L583.80,265.27 L584.30,265.31 L584.80,265.36 L585.30,265.41 L585.80,265.45 L586.30,265.50 L586.80,265.55 L587.30,265.59 L587.80,265.64 L588.30,265.68 L588.80,265.73 L589.30,265.77 L589.80,265.82 L590.30,265.86 L590.80,265.91 L591.30,265.95 L591.80,266.00 L592.30,266.04 L592.80,266.08 L593.30,266.13 L593.80,266.17 L594.30,266.21 L594.80,266.25 L595.30,266.30 L595.80,266.34 L596.30,266.38 L596.80,266.42 L597.30,266.46 L597.80,266.51 L598.30,266.55 L598.80,266.59 L599.30,266.63 L599.80,266.67 L600.30,266.71 L600.80,266.75 L601.30,266.79 L601.80,266.83 L602.30,266.87 L602.80,266.91 L603.30,266.95 L603.80,266.99 L604.30,267.03 L604.80,267.07 L605.30,267.11 L605.80,267.15 L606.30,267.19 L606.80,267.23 L607.30,267.27 L607.80,267.30 L608.30,267.34 L608.80,267.38 L609.30,267.42 L609.80,267.46 L610.30,267.49 L610.80,267.53 L611.30,267.57 L611.80,267.61 L612.30,267.64 L612.80,267.68 L613.30,267.72 L613.80,267.76 L614.30,267.79 L614.80,267.83 L615.30,267.87 L615.80,267.90 L616.30,267.94 L616.80,267.98 L617.30,268.01 L617.80,268.05 L618.30,268.09 L618.80,268.12 L619.30,268.16 L619.80,268.20 L620.30,268.23 L620.80,268.27 L621.30,268.30 L621.80,268.34 L622.30,268.38 L622.80,268.41 L623.30,268.45 L623.80,268.48 L624.30,268.52 L624.80,268.56 L625.30,268.59 L625.80,268.63 L626.30,268.66 L626.80,268.70 L627.30,268.73 L627.80,268.77 L628.30,268.80 L628.80,268.84 L629.30,268.87 L629.80,268.91 L630.30,268.95 L630.80,268.98 L631.30,269.02 L631.80,269.05 L632.30,269.08 L632.80,269.12 L633.30,269.15 L633.80,269.19 L634.30,269.22 L634.80,269.26 L635.30,269.29 L635.80,269.32 L636.30,269.36 L636.80,269.39 L637.30,269.43 L637.80,269.46 L638.30,269.49 L638.80,269.52 L639.30,269.56 L639.80,269.59 L640.30,269.62 L640.80,269.66 L641.30,269.69 L641.80,269.72 L642.30,269.75 L642.80,269.78 L643.30,269.81 L643.80,269.85 L644.30,269.88 L644.80,269.91 L645.30,269.94 L645.80,269.97 L646.30,270.00 L646.80,270.03 L647.30,270.06 L647.80,270.09 L648.30,270.11 L648.80,270.14 L649.30,270.17 L649.80,270.20 L650.30,270.23 L650.80,270.26 L651.30,270.28 L651.80,270.31 L652.30,270.34 L652.80,270.36 L653.30,270.39 L653.80,270.42 L654.30,270.44 L654.80,270.47 L655.30,270.49 L655.80,270.52 L656.30,270.54 L656.80,270.57 L657.30,270.59 L657.80,270.61 L658.30,270.63 L658.80,270.66 L659.30,270.68 L659.80,270.70 L660.30,270.72 L660.80,270.74 L661.30,270.77 L661.80,270.79 L662.30,270.81 L662.80,270.83 L663.30,270.84 L663.80,270.86 L664.30,270.88 L664.80,270.90 L665.30,270.92 L665.80,270.93 L666.30,270.95 L666.80,270.97 L667.30,270.98 L667.80,271.00 L668.30,271.01 L668.80,271.03 L669.30,271.04 L669.80,271.06 L670.30,271.07 L670.80,271.08 L671.30,271.09 L671.80,271.11 L672.30,271.12 L672.80,271.13 L673.30,271.14 L673.80,271.15 L674.30,271.16 L674.80,271.17 L675.30,271.18 L675.80,271.18 L676.30,271.19 L676.80,271.20 L677.30,271.20 L677.80,271.21 L678.30,271.21 L678.80,271.22 L679.30,271.22 L679.80,271.23 L680.30,271.23 L680.80,271.24 L681.30,271.24 L681.80,271.24 L682.30,271.25 L682.80,271.25 L683.30,271.26 L683.80,271.26 L684.30,271.27 L684.80,271.27 L685.30,271.28 L685.80,271.29 L686.30,271.29 L686.80,271.30 L687.30,271.31 L687.80,271.32 L688.30,271.33 L688.80,271.34 L689.30,271.35 L689.80,271.37 L690.30,271.38 L690.80,271.40 L691.30,271.41 L691.80,271.43 L692.30,271.45 L692.80,271.47 L693.30,271.49 L693.80,271.52 L694.30,271.54 L694.80,271.57 L695.30,271.60 L695.80,271.63 L696.30,271.66 L696.80,271.70 L697.30,271.74 L697.80,271.77 L698.30,271.82 L698.80,271.86 L699.30,271.90 L699.80,271.95 L700.30,272.00 L700.80,272.05 L701.30,272.11 L701.80,272.17 L702.30,272.23 L702.80,272.29 L703.30,272.36 L703.80,272.43 L704.30,272.50 L704.80,272.57 L705.30,272.65 L705.80,272.73 L706.30,272.82 L706.80,272.90 L707.30,272.99 L707.80,273.09 L708.30,273.18 L708.80,273.28 L709.30,273.39 L709.80,273.49 L710.30,273.60 L710.80,273.71 L711.30,273.83 L711.80,273.95 L712.30,274.06 L712.80,274.19 L713.30,274.31 L713.80,274.44 L714.30,274.56 L714.80,274.69 L715.30,274.83 L715.80,274.96 L716.30,275.09 L716.80,275.23 L717.30,275.37 L717.80,275.51 L718.30,275.65 L718.80,275.79 L719.30,275.93 L719.80,276.08 L720.30,276.22 L720.80,276.37 L721.30,276.52 L721.80,276.66 L722.30,276.81 L722.80,276.96 L723.30,277.11 L723.80,277.26 L724.30,277.41 L724.80,277.56 L725.30,277.70 L725.80,277.85 L726.30,278.00 L726.80,278.15 L727.30,278.30 L727.80,278.45 L728.30,278.59 L728.80,278.74 L729.30,278.89 L729.80,279.03 L730.30,279.17 L730.80,279.32 L731.30,279.46 L731.80,279.60 L732.30,279.74 L732.80,279.87 L733.30,280.01 L733.80,280.14 L734.30,280.28 L734.80,280.41 L735.30,280.54 L735.80,280.66 L736.30,280.79 L736.80,280.91 L737.30,281.03 L737.80,281.15 L738.30,281.26 L738.80,281.37 L739.30,281.48 L739.80,281.59 L740.30,281.70 L740.80,281.80 L741.30,281.90 L741.80,281.99 L742.30,282.08 L742.80,282.17 L743.30,282.26 L743.80,282.34 L744.30,282.42 L744.80,282.49 L745.30,282.56 L745.80,282.63 L746.30,282.69 L746.80,282.75 L747.30,282.81 L747.80,282.86 L748.30,282.91 L748.80,282.95 L749.30,283.00 L749.80,283.03 L750.30,283.07 L750.80,283.10 L751.30,283.13 L751.80,283.15 L752.30,283.17 L752.80,283.19 L753.30,283.20 L753.80,283.21 L754.30,283.22 L754.80,283.22 L755.30,283.22 L755.80,283.21 L756.30,283.21 L756.80,283.20 L757.30,283.18 L757.80,283.17 L758.30,283.15 L758.80,283.12 L759.30,283.10 L759.80,283.06 L760.30,283.03 L760.80,282.99 L761.30,282.95 L761.80,282.91 L762.30,282.87 L762.80,282.82 L763.30,282.76 L763.80,282.71 L764.30,282.65 L764.80,282.59 L765.30,282.52 L765.80,282.45 L766.30,282.38 L766.80,282.31 L767.30,282.23 L767.80,282.15 L768.30,282.07 L768.80,281.98 L769.30,281.89 L769.80,281.80 L770.30,281.70 L770.80,281.61 L771.30,281.51 L771.80,281.40 L772.30,281.30 L772.80,281.19 L773.30,281.08 L773.80,280.97 L774.30,280.86 L774.80,280.75 L775.30,280.63 L775.80,280.51 L776.30,280.40 L776.80,280.28 L777.30,280.16 L777.80,280.04 L778.30,279.91 L778.80,279.79 L779.30,279.67 L779.80,279.55 L780.30,279.42 L780.80,279.30 L781.30,279.18 L781.80,279.06 L782.30,278.93 L782.80,278.81 L783.30,278.69 L783.80,278.57 L784.30,278.45 L784.80,278.33 L785.30,278.22 L785.80,278.10 L786.30,277.99 L786.80,277.88 L787.30,277.77 L787.80,277.66 L788.30,277.55 L788.80,277.45 L789.30,277.35 L789.80,277.25 L790.30,277.15 L790.80,277.06 L791.30,276.96 L791.80,276.88 L792.30,276.79 L792.80,276.71 L793.30,276.63 L793.80,276.55 L794.30,276.48 L794.80,276.41 L795.30,276.35 L795.80,276.29 L796.30,276.23 L796.80,276.18 L797.30,276.13 L797.80,276.09 L798.30,276.05 L798.80,276.01 L799.30,275.98 L799.80,275.96 L800.30,275.93 L800.80,275.91 L801.30,275.90 L801.80,275.89 L802.30,275.88 L802.80,275.88 L803.30,275.89 L803.80,275.90 L804.30,275.91 L804.80,275.93 L805.30,275.95 L805.80,275.98 L806.30,276.01 L806.80,276.05 L807.30,276.09 L807.80,276.13 L808.30,276.19 L808.80,276.24 L809.30,276.31 L809.80,276.37 L810.30,276.45 L810.80,276.52 L811.30,276.61 L811.80,276.70 L812.30,276.79 L812.80,276.89 L813.30,276.99 L813.80,277.10 L814.30,277.22 L814.80,277.34 L815.30,277.47 L815.80,277.60 L816.30,277.74 L816.80,277.89 L817.30,278.04 L817.80,278.19 L818.30,278.36 L818.80,278.53 L819.30,278.70"/>
<path class="c" stroke="#0018d0" stroke-width="3.3" stroke-dasharray="7.75 2.64" stroke-dashoffset="0" d="M200.30,272.85 L200.80,272.85 L201.30,272.85 L201.80,272.85 L202.30,272.85 L202.80,272.85 L203.30,272.85 L203.80,272.85 L204.30,272.85 L204.80,272.85 L205.30,272.85 L205.80,272.85 L206.30,272.85 L206.80,272.85 L207.30,272.84 L207.80,272.84 L208.30,272.84 L208.80,272.84 L209.30,272.84 L209.80,272.85 L210.30,272.87 L210.80,272.91 L211.30,272.96 L211.80,273.03 L212.30,273.13 L212.80,273.25 L213.30,273.40 L213.80,273.59 L214.30,273.81 L214.80,274.06 L215.30,274.35 L215.80,274.66 L216.30,275.00 L216.80,275.37 L217.30,275.76 L217.80,276.17 L218.30,276.59 L218.80,277.03 L219.30,277.48 L219.80,277.95 L220.30,278.42 L220.80,278.90 L221.30,279.38 L221.80,279.86 L222.30,280.34 L222.80,280.81 L223.30,281.28 L223.80,281.75 L224.30,282.20 L224.80,282.63 L225.30,283.06 L225.80,283.46 L226.30,283.85 L226.80,284.21 L227.30,284.54 L227.80,284.85 L228.30,285.14 L228.80,285.39 L229.30,285.62 L229.80,285.82 L230.30,285.99 L230.80,286.13 L231.30,286.24 L231.80,286.32 L232.30,286.37 L232.80,286.39 L233.30,286.37 L233.80,286.32 L234.30,286.24 L234.80,286.12 L235.30,285.97 L235.80,285.78 L236.30,285.55 L236.80,285.29 L237.30,285.00 L237.80,284.66 L238.30,284.29 L238.80,283.89 L239.30,283.45 L239.80,282.98 L240.30,282.47 L240.80,281.93 L241.30,281.36 L241.80,280.76 L242.30,280.13 L242.80,279.47 L243.30,278.79 L243.80,278.07 L244.30,277.33 L244.80,276.56 L245.30,275.76 L245.80,274.94 L246.30,274.10 L246.80,273.24 L247.30,272.35 L247.80,271.46 L248.30,270.56 L248.80,269.65 L249.30,268.74 L249.80,267.83 L250.30,266.93 L250.80,266.04 L251.30,265.16 L251.80,264.31 L252.30,263.47 L252.80,262.66 L253.30,261.89 L253.80,261.14 L254.30,260.43 L254.80,259.77 L255.30,259.15 L255.80,258.58 L256.30,258.06 L256.80,257.60 L257.30,257.18 L257.80,256.81 L258.30,256.48 L258.80,256.20 L259.30,255.95 L259.80,255.74 L260.30,255.57 L260.80,255.42 L261.30,255.31 L261.80,255.23 L262.30,255.17 L262.80,255.13 L263.30,255.11 L263.80,255.11 L264.30,255.13 L264.80,255.16 L265.30,255.20 L265.80,255.25 L266.30,255.30 L266.80,255.36 L267.30,255.43 L267.80,255.50 L268.30,255.58 L268.80,255.66 L269.30,255.74 L269.80,255.83 L270.30,255.93 L270.80,256.02 L271.30,256.12 L271.80,256.23 L272.30,256.33 L272.80,256.44 L273.30,256.55 L273.80,256.66 L274.30,256.78 L274.80,256.89 L275.30,257.01 L275.80,257.13 L276.30,257.25 L276.80,257.37 L277.30,257.49 L277.80,257.60 L278.30,257.72 L278.80,257.84 L279.30,257.96 L279.80,258.07 L280.30,258.18 L280.80,258.30 L281.30,258.41 L281.80,258.51 L282.30,258.62 L282.80,258.72 L283.30,258.82 L283.80,258.91 L284.30,259.01 L284.80,259.09 L285.30,259.18 L285.80,259.26 L286.30,259.33 L286.80,259.40 L287.30,259.46 L287.80,259.52 L288.30,259.57 L288.80,259.62 L289.30,259.66 L289.80,259.69 L290.30,259.72 L290.80,259.74 L291.30,259.75 L291.80,259.75 L292.30,259.75 L292.80,259.73 L293.30,259.71 L293.80,259.68 L294.30,259.64 L294.80,259.60 L295.30,259.54 L295.80,259.47 L296.30,259.39 L296.80,259.30 L297.30,259.20 L297.80,259.09 L298.30,258.97 L298.80,258.84 L299.30,258.69 L299.80,258.54 L300.30,258.37 L300.80,258.20 L301.30,258.01 L301.80,257.81 L302.30,257.61 L302.80,257.39 L303.30,257.16 L303.80,256.92 L304.30,256.68 L304.80,256.42 L305.30,256.15 L305.80,255.88 L306.30,255.59 L306.80,255.30 L307.30,254.99 L307.80,254.68 L308.30,254.36 L308.80,254.03 L309.30,253.69 L309.80,253.34 L310.30,252.98 L310.80,252.62 L311.30,252.25 L311.80,251.87 L312.30,251.48 L312.80,251.08 L313.30,250.68 L313.80,250.26 L314.30,249.84 L314.80,249.42 L315.30,248.98 L315.80,248.54 L316.30,248.09 L316.80,247.64 L317.30,247.18 L317.80,246.71 L318.30,246.23 L318.80,245.75 L319.30,245.27 L319.80,244.77 L320.30,244.27 L320.80,243.77 L321.30,243.26 L321.80,242.74 L322.30,242.22 L322.80,241.69 L323.30,241.15 L323.80,240.61 L324.30,240.07 L324.80,239.52 L325.30,238.97 L325.80,238.41 L326.30,237.85 L326.80,237.29 L327.30,236.72 L327.80,236.15 L328.30,235.58 L328.80,235.00 L329.30,234.43 L329.80,233.85 L330.30,233.26 L330.80,232.68 L331.30,232.10 L331.80,231.51 L332.30,230.93 L332.80,230.34 L333.30,229.76 L333.80,229.17 L334.30,228.59 L334.80,228.00 L335.30,227.42 L335.80,226.83 L336.30,226.25 L336.80,225.68 L337.30,225.10 L337.80,224.52 L338.30,223.95 L338.80,223.38 L339.30,222.82 L339.80,222.25 L340.30,221.69 L340.80,221.14 L341.30,220.59 L341.80,220.04 L342.30,219.50 L342.80,218.96 L343.30,218.43 L343.80,217.91 L344.30,217.39 L344.80,216.87 L345.30,216.36 L345.80,215.86 L346.30,215.37 L346.80,214.88 L347.30,214.40 L347.80,213.93 L348.30,213.46 L348.80,213.01 L349.30,212.56 L349.80,212.12 L350.30,211.69 L350.80,211.27 L351.30,210.86 L351.80,210.46 L352.30,210.06 L352.80,209.68 L353.30,209.31 L353.80,208.95 L354.30,208.60 L354.80,208.26 L355.30,207.93 L355.80,207.60 L356.30,207.29 L356.80,206.99 L357.30,206.70 L357.80,206.42 L358.30,206.15 L358.80,205.89 L359.30,205.64 L359.80,205.40 L360.30,205.17 L360.80,204.95 L361.30,204.74 L361.80,204.55 L362.30,204.36 L362.80,204.18 L363.30,204.01 L363.80,203.85 L364.30,203.70 L364.80,203.56 L365.30,203.43 L365.80,203.32 L366.30,203.21 L366.80,203.11 L367.30,203.02 L367.80,202.95 L368.30,202.88 L368.80,202.82 L369.30,202.77 L369.80,202.74 L370.30,202.71 L370.80,202.69 L371.30,202.69 L371.80,202.69 L372.30,202.70 L372.80,202.73 L373.30,202.76 L373.80,202.80 L374.30,202.86 L374.80,202.92 L375.30,203.00 L375.80,203.08 L376.30,203.18 L376.80,203.28 L377.30,203.39 L377.80,203.52 L378.30,203.65 L378.80,203.80 L379.30,203.95 L379.80,204.12 L380.30,204.30 L380.80,204.48 L381.30,204.67 L381.80,204.88 L382.30,205.09 L382.80,205.31 L383.30,205.54 L383.80,205.78 L384.30,206.03 L384.80,206.28 L385.30,206.55 L385.80,206.82 L386.30,207.09 L386.80,207.38 L387.30,207.67 L387.80,207.97 L388.30,208.27 L388.80,208.58 L389.30,208.90 L389.80,209.23 L390.30,209.55 L390.80,209.89 L391.30,210.23 L391.80,210.57 L392.30,210.92 L392.80,211.28 L393.30,211.64 L393.80,212.00 L394.30,212.37 L394.80,212.74 L395.30,213.12 L395.80,213.49 L396.30,213.88 L396.80,214.26 L397.30,214.65 L397.80,215.04 L398.30,215.43 L398.80,215.83 L399.30,216.22 L399.80,216.62 L400.30,217.02 L400.80,217.43 L401.30,217.83 L401.80,218.23 L402.30,218.64 L402.80,219.04 L403.30,219.45 L403.80,219.85 L404.30,220.26 L404.80,220.66 L405.30,221.07 L405.80,221.47 L406.30,221.88 L406.80,222.28 L407.30,222.68 L407.80,223.08 L408.30,223.48 L408.80,223.87 L409.30,224.27 L409.80,224.66 L410.30,225.05 L410.80,225.43 L411.30,225.81 L411.80,226.19 L412.30,226.57 L412.80,226.94 L413.30,227.31 L413.80,227.68 L414.30,228.04 L414.80,228.39 L415.30,228.75 L415.80,229.09 L416.30,229.44 L416.80,229.77 L417.30,230.10 L417.80,230.43 L418.30,230.75 L418.80,231.07 L419.30,231.38 L419.80,231.68 L420.30,231.98 L420.80,232.27 L421.30,232.56 L421.80,232.85 L422.30,233.13 L422.80,233.40 L423.30,233.67 L423.80,233.94 L424.30,234.20 L424.80,234.46 L425.30,234.71 L425.80,234.96 L426.30,235.20 L426.80,235.44 L427.30,235.67 L427.80,235.90 L428.30,236.13 L428.80,236.35 L429.30,236.57 L429.80,236.78 L430.30,236.99 L430.80,237.20 L431.30,237.40 L431.80,237.60 L432.30,237.79 L432.80,237.98 L433.30,238.17 L433.80,238.36 L434.30,238.54 L434.80,238.71 L435.30,238.89 L435.80,239.06 L436.30,239.22 L436.80,239.39 L437.30,239.55 L437.80,239.71 L438.30,239.86 L438.80,240.01 L439.30,240.16 L439.80,240.31 L440.30,240.45 L440.80,240.59 L441.30,240.73 L441.80,240.86 L442.30,241.00 L442.80,241.13 L443.30,241.25 L443.80,241.38 L444.30,241.50 L444.80,241.62 L445.30,241.74 L445.80,241.86 L446.30,241.97 L446.80,242.08 L447.30,242.19 L447.80,242.30 L448.30,242.41 L448.80,242.51 L449.30,242.61 L449.80,242.72 L450.30,242.82 L450.80,242.91 L451.30,243.01 L451.80,243.10 L452.30,243.20 L452.80,243.29 L453.30,243.38 L453.80,243.47 L454.30,243.56 L454.80,243.65 L455.30,243.73 L455.80,243.82 L456.30,243.90 L456.80,243.99 L457.30,244.07 L457.80,244.15 L458.30,244.23 L458.80,244.31 L459.30,244.39 L459.80,244.47 L460.30,244.55 L460.80,244.63 L461.30,244.71 L461.80,244.79 L462.30,244.87 L462.80,244.94 L463.30,245.02 L463.80,245.10 L464.30,245.17 L464.80,245.25 L465.30,245.33 L465.80,245.41 L466.30,245.49 L466.80,245.56 L467.30,245.64 L467.80,245.72 L468.30,245.80 L468.80,245.88 L469.30,245.96 L469.80,246.04 L470.30,246.12 L470.80,246.21 L471.30,246.29 L471.80,246.37 L472.30,246.46 L472.80,246.55 L473.30,246.63 L473.80,246.72 L474.30,246.81 L474.80,246.90 L475.30,246.99 L475.80,247.09 L476.30,247.18 L476.80,247.28 L477.30,247.37 L477.80,247.47 L478.30,247.57 L478.80,247.67 L479.30,247.77 L479.80,247.87 L480.30,247.98 L480.80,248.08 L481.30,248.19 L481.80,248.29 L482.30,248.40 L482.80,248.51 L483.30,248.62 L483.80,248.73 L484.30,248.84 L484.80,248.96 L485.30,249.07 L485.80,249.18 L486.30,249.30 L486.80,249.41 L487.30,249.53 L487.80,249.65 L488.30,249.77 L488.80,249.89 L489.30,250.00 L489.80,250.13 L490.30,250.25 L490.80,250.37 L491.30,250.49 L491.80,250.61 L492.30,250.74 L492.80,250.86 L493.30,250.99 L493.80,251.11 L494.30,251.24 L494.80,251.36 L495.30,251.49 L495.80,251.62 L496.30,251.74 L496.80,251.87 L497.30,252.00 L497.80,252.13 L498.30,252.26 L498.80,252.39 L499.30,252.52 L499.80,252.65 L500.30,252.78 L500.80,252.91 L501.30,253.04 L501.80,253.17 L502.30,253.30 L502.80,253.44 L503.30,253.57 L503.80,253.70 L504.30,253.83 L504.80,253.96 L505.30,254.10 L505.80,254.23 L506.30,254.36 L506.80,254.49 L507.30,254.63 L507.80,254.76 L508.30,254.89 L508.80,255.02 L509.30,255.15 L509.80,255.29 L510.30,255.42 L510.80,255.55 L511.30,255.68 L511.80,255.81 L512.30,255.95 L512.80,256.08 L513.30,256.21 L513.80,256.34 L514.30,256.47 L514.80,256.60 L515.30,256.73 L515.80,256.86 L516.30,256.99 L516.80,257.12 L517.30,257.24 L517.80,257.37 L518.30,257.50 L518.80,257.63 L519.30,257.75 L519.80,257.88 L520.30,258.00 L520.80,258.13 L521.30,258.25 L521.80,258.38 L522.30,258.50 L522.80,258.62 L523.30,258.74 L523.80,258.87 L524.30,258.99 L524.80,259.11 L525.30,259.23 L525.80,259.34 L526.30,259.46 L526.80,259.58 L527.30,259.70 L527.80,259.81 L528.30,259.92 L528.80,260.04 L529.30,260.15 L529.80,260.26 L530.30,260.37 L530.80,260.48 L531.30,260.59 L531.80,260.70 L532.30,260.81 L532.80,260.91 L533.30,261.02 L533.80,261.12 L534.30,261.23 L534.80,261.33 L535.30,261.43 L535.80,261.53 L536.30,261.63 L536.80,261.72 L537.30,261.82 L537.80,261.92 L538.30,262.01 L538.80,262.10 L539.30,262.19 L539.80,262.28 L540.30,262.37 L540.80,262.46 L541.30,262.54 L541.80,262.63 L542.30,262.71 L542.80,262.79 L543.30,262.87 L543.80,262.95 L544.30,263.03 L544.80,263.11 L545.30,263.19 L545.80,263.26 L546.30,263.33 L546.80,263.41 L547.30,263.48 L547.80,263.55 L548.30,263.62 L548.80,263.69 L549.30,263.75 L549.80,263.82 L550.30,263.89 L550.80,263.95 L551.30,264.01 L551.80,264.07 L552.30,264.14 L552.80,264.20 L553.30,264.25 L553.80,264.31 L554.30,264.37 L554.80,264.43 L555.30,264.48 L555.80,264.54 L556.30,264.59 L556.80,264.64 L557.30,264.70 L557.80,264.75 L558.30,264.80 L558.80,264.85 L559.30,264.90 L559.80,264.94 L560.30,264.99 L560.80,265.04 L561.30,265.08 L561.80,265.13 L562.30,265.17 L562.80,265.22 L563.30,265.26 L563.80,265.30 L564.30,265.34 L564.80,265.38 L565.30,265.43 L565.80,265.47 L566.30,265.50 L566.80,265.54 L567.30,265.58 L567.80,265.62 L568.30,265.66 L568.80,265.69 L569.30,265.73 L569.80,265.77 L570.30,265.80 L570.80,265.84 L571.30,265.87 L571.80,265.90 L572.30,265.94 L572.80,265.97 L573.30,266.00 L573.80,266.04 L574.30,266.07 L574.80,266.10 L575.30,266.13 L575.80,266.16 L576.30,266.19 L576.80,266.22 L577.30,266.25 L577.80,266.28 L578.30,266.31 L578.80,266.34 L579.30,266.37 L579.80,266.40 L580.30,266.43 L580.80,266.46 L581.30,266.49 L581.80,266.51 L582.30,266.54 L582.80,266.57 L583.30,266.60 L583.80,266.63 L584.30,266.65 L584.80,266.68 L585.30,266.71 L585.80,266.74 L586.30,266.77 L586.80,266.79 L587.30,266.82 L587.80,266.85 L588.30,266.88 L588.80,266.91 L589.30,266.93 L589.80,266.96 L590.30,266.99 L590.80,267.02 L591.30,267.05 L591.80,267.07 L592.30,267.10 L592.80,267.13 L593.30,267.16 L593.80,267.19 L594.30,267.22 L594.80,267.25 L595.30,267.28 L595.80,267.31 L596.30,267.34 L596.80,267.37 L597.30,267.40 L597.80,267.43 L598.30,267.47 L598.80,267.50 L599.30,267.53 L599.80,267.56 L600.30,267.60 L600.80,267.63 L601.30,267.66 L601.80,267.70 L602.30,267.73 L602.80,267.77 L603.30,267.80 L603.80,267.84 L604.30,267.87 L604.80,267.91 L605.30,267.95 L605.80,267.98 L606.30,268.02 L606.80,268.06 L607.30,268.09 L607.80,268.13 L608.30,268.17 L608.80,268.21 L609.30,268.25 L609.80,268.28 L610.30,268.32 L610.80,268.36 L611.30,268.40 L611.80,268.44 L612.30,268.48 L612.80,268.52 L613.30,268.56 L613.80,268.59 L614.30,268.63 L614.80,268.67 L615.30,268.71 L615.80,268.75 L616.30,268.79 L616.80,268.83 L617.30,268.87 L617.80,268.91 L618.30,268.95 L618.80,268.99 L619.30,269.03 L619.80,269.06 L620.30,269.10 L620.80,269.14 L621.30,269.18 L621.80,269.22 L622.30,269.26 L622.80,269.30 L623.30,269.33 L623.80,269.37 L624.30,269.41 L624.80,269.45 L625.30,269.49 L625.80,269.52 L626.30,269.56 L626.80,269.60 L627.30,269.63 L627.80,269.67 L628.30,269.70 L628.80,269.74 L629.30,269.78 L629.80,269.81 L630.30,269.85 L630.80,269.88 L631.30,269.91 L631.80,269.95 L632.30,269.98 L632.80,270.01 L633.30,270.05 L633.80,270.08 L634.30,270.11 L634.80,270.14 L635.30,270.17 L635.80,270.20 L636.30,270.23 L636.80,270.26 L637.30,270.29 L637.80,270.32 L638.30,270.35 L638.80,270.37 L639.30,270.40 L639.80,270.43 L640.30,270.45 L640.80,270.48 L641.30,270.50 L641.80,270.53 L642.30,270.55 L642.80,270.57 L643.30,270.60 L643.80,270.62 L644.30,270.64 L644.80,270.66 L645.30,270.68 L645.80,270.70 L646.30,270.72 L646.80,270.73 L647.30,270.75 L647.80,270.77 L648.30,270.78 L648.80,270.80 L649.30,270.81 L649.80,270.82 L650.30,270.83 L650.80,270.85 L651.30,270.86 L651.80,270.87 L652.30,270.87 L652.80,270.88 L653.30,270.89 L653.80,270.90 L654.30,270.90 L654.80,270.91 L655.30,270.91 L655.80,270.92 L656.30,270.92 L656.80,270.92 L657.30,270.92 L657.80,270.92 L658.30,270.92 L658.80,270.93 L659.30,270.93 L659.80,270.92 L660.30,270.92 L660.80,270.92 L661.30,270.92 L661.80,270.92 L662.30,270.92 L662.80,270.91 L663.30,270.91 L663.80,270.91 L664.30,270.91 L664.80,270.90 L665.30,270.90 L665.80,270.90 L666.30,270.89 L666.80,270.89 L667.30,270.89 L667.80,270.88 L668.30,270.88 L668.80,270.88 L669.30,270.87 L669.80,270.87 L670.30,270.87 L670.80,270.87 L671.30,270.87 L671.80,270.86 L672.30,270.86 L672.80,270.86 L673.30,270.86 L673.80,270.86 L674.30,270.86 L674.80,270.86 L675.30,270.86 L675.80,270.86 L676.30,270.87 L676.80,270.87 L677.30,270.87 L677.80,270.88 L678.30,270.88 L678.80,270.89 L679.30,270.89 L679.80,270.90 L680.30,270.91 L680.80,270.91 L681.30,270.92 L681.80,270.93 L682.30,270.94 L682.80,270.96 L683.30,270.97 L683.80,270.98 L684.30,271.00 L684.80,271.01 L685.30,271.03 L685.80,271.05 L686.30,271.07 L686.80,271.09 L687.30,271.11 L687.80,271.13 L688.30,271.16 L688.80,271.18 L689.30,271.21 L689.80,271.24 L690.30,271.26 L690.80,271.30 L691.30,271.33 L691.80,271.36 L692.30,271.40 L692.80,271.43 L693.30,271.47 L693.80,271.51 L694.30,271.55 L694.80,271.59 L695.30,271.64 L695.80,271.68 L696.30,271.73 L696.80,271.78 L697.30,271.83 L697.80,271.89 L698.30,271.94 L698.80,272.00 L699.30,272.06 L699.80,272.12 L700.30,272.18 L700.80,272.24 L701.30,272.31 L701.80,272.38 L702.30,272.45 L702.80,272.52 L703.30,272.59 L703.80,272.67 L704.30,272.75 L704.80,272.82 L705.30,272.91 L705.80,272.99 L706.30,273.07 L706.80,273.16 L707.30,273.25 L707.80,273.34 L708.30,273.43 L708.80,273.53 L709.30,273.62 L709.80,273.72 L710.30,273.82 L710.80,273.93 L711.30,274.03 L711.80,274.14 L712.30,274.25 L712.80,274.36 L713.30,274.47 L713.80,274.58 L714.30,274.70 L714.80,274.82 L715.30,274.94 L715.80,275.06 L716.30,275.19 L716.80,275.31 L717.30,275.44 L717.80,275.58 L718.30,275.71 L718.80,275.84 L719.30,275.98 L719.80,276.12 L720.30,276.26 L720.80,276.41 L721.30,276.55 L721.80,276.70 L722.30,276.85 L722.80,277.00 L723.30,277.15 L723.80,277.30 L724.30,277.46 L724.80,277.61 L725.30,277.76 L725.80,277.92 L726.30,278.07 L726.80,278.23 L727.30,278.39 L727.80,278.54 L728.30,278.70 L728.80,278.85 L729.30,279.01 L729.80,279.16 L730.30,279.31 L730.80,279.47 L731.30,279.62 L731.80,279.77 L732.30,279.91 L732.80,280.06 L733.30,280.21 L733.80,280.35 L734.30,280.49 L734.80,280.63 L735.30,280.77 L735.80,280.91 L736.30,281.04 L736.80,281.17 L737.30,281.30 L737.80,281.42 L738.30,281.54 L738.80,281.66 L739.30,281.78 L739.80,281.89 L740.30,282.00 L740.80,282.10 L741.30,282.20 L741.80,282.30 L742.30,282.39 L742.80,282.48 L743.30,282.57 L743.80,282.64 L744.30,282.72 L744.80,282.79 L745.30,282.85 L745.80,282.91 L746.30,282.97 L746.80,283.02 L747.30,283.07 L747.80,283.11 L748.30,283.15 L748.80,283.18 L749.30,283.21 L749.80,283.24 L750.30,283.26 L750.80,283.27 L751.30,283.29 L751.80,283.29 L752.30,283.30 L752.80,283.30 L753.30,283.30 L753.80,283.29 L754.30,283.28 L754.80,283.27 L755.30,283.25 L755.80,283.23 L756.30,283.21 L756.80,283.18 L757.30,283.15 L757.80,283.12 L758.30,283.08 L758.80,283.04 L759.30,283.00 L759.80,282.96 L760.30,282.91 L760.80,282.86 L761.30,282.81 L761.80,282.75 L762.30,282.69 L762.80,282.63 L763.30,282.57 L763.80,282.51 L764.30,282.44 L764.80,282.37 L765.30,282.30 L765.80,282.23 L766.30,282.15 L766.80,282.07 L767.30,281.99 L767.80,281.91 L768.30,281.83 L768.80,281.75 L769.30,281.66 L769.80,281.57 L770.30,281.48 L770.80,281.39 L771.30,281.30 L771.80,281.21 L772.30,281.12 L772.80,281.02 L773.30,280.93 L773.80,280.83 L774.30,280.73 L774.80,280.64 L775.30,280.54 L775.80,280.44 L776.30,280.34 L776.80,280.24 L777.30,280.13 L777.80,280.03 L778.30,279.93 L778.80,279.83 L779.30,279.73 L779.80,279.62 L780.30,279.52 L780.80,279.42 L781.30,279.32 L781.80,279.21 L782.30,279.11 L782.80,279.01 L783.30,278.91 L783.80,278.81 L784.30,278.71 L784.80,278.61 L785.30,278.51 L785.80,278.41 L786.30,278.31 L786.80,278.21 L787.30,278.12 L787.80,278.02 L788.30,277.93 L788.80,277.84 L789.30,277.74 L789.80,277.65 L790.30,277.56 L790.80,277.48 L791.30,277.39 L791.80,277.30 L792.30,277.22 L792.80,277.14 L793.30,277.06 L793.80,276.98 L794.30,276.90 L794.80,276.83 L795.30,276.76 L795.80,276.69 L796.30,276.62 L796.80,276.55 L797.30,276.49 L797.80,276.43 L798.30,276.38 L798.80,276.32 L799.30,276.27 L799.80,276.23 L800.30,276.18 L800.80,276.14 L801.30,276.11 L801.80,276.08 L802.30,276.05 L802.80,276.03 L803.30,276.01 L803.80,276.00 L804.30,275.99 L804.80,275.99 L805.30,275.99 L805.80,276.00 L806.30,276.01 L806.80,276.03 L807.30,276.06 L807.80,276.09 L808.30,276.13 L808.80,276.17 L809.30,276.22 L809.80,276.28 L810.30,276.35 L810.80,276.42 L811.30,276.50 L811.80,276.58 L812.30,276.68 L812.80,276.78 L813.30,276.89 L813.80,277.01 L814.30,277.13 L814.80,277.27 L815.30,277.41 L815.80,277.56 L816.30,277.72 L816.80,277.89 L817.30,278.07 L817.80,278.25 L818.30,278.45 L818.80,278.66 L819.30,278.87"/>
<path class="c" stroke="#00e000" stroke-width="3.3" stroke-dasharray="1.7 1.7" stroke-dashoffset="0" d="M200.30,272.85 L200.80,272.85 L201.30,272.85 L201.80,272.85 L202.30,272.85 L202.80,272.85 L203.30,272.85 L203.80,272.85 L204.30,272.85 L204.80,272.85 L205.30,272.85 L205.80,272.85 L206.30,272.85 L206.80,272.85 L207.30,272.85 L207.80,272.85 L208.30,272.84 L208.80,272.84 L209.30,272.84 L209.80,272.85 L210.30,272.86 L210.80,272.89 L211.30,272.93 L211.80,273.00 L212.30,273.08 L212.80,273.19 L213.30,273.32 L213.80,273.49 L214.30,273.69 L214.80,273.92 L215.30,274.18 L215.80,274.46 L216.30,274.77 L216.80,275.11 L217.30,275.46 L217.80,275.82 L218.30,276.21 L218.80,276.60 L219.30,277.01 L219.80,277.42 L220.30,277.84 L220.80,278.26 L221.30,278.69 L221.80,279.11 L222.30,279.53 L222.80,279.94 L223.30,280.34 L223.80,280.73 L224.30,281.11 L224.80,281.48 L225.30,281.82 L225.80,282.15 L226.30,282.45 L226.80,282.74 L227.30,282.99 L227.80,283.23 L228.30,283.44 L228.80,283.62 L229.30,283.77 L229.80,283.89 L230.30,283.98 L230.80,284.03 L231.30,284.06 L231.80,284.04 L232.30,283.99 L232.80,283.90 L233.30,283.77 L233.80,283.61 L234.30,283.39 L234.80,283.14 L235.30,282.85 L235.80,282.52 L236.30,282.14 L236.80,281.73 L237.30,281.28 L237.80,280.80 L238.30,280.28 L238.80,279.72 L239.30,279.12 L239.80,278.50 L240.30,277.83 L240.80,277.14 L241.30,276.41 L241.80,275.65 L242.30,274.86 L242.80,274.04 L243.30,273.19 L243.80,272.31 L244.30,271.40 L244.80,270.47 L245.30,269.51 L245.80,268.52 L246.30,267.51 L246.80,266.49 L247.30,265.44 L247.80,264.38 L248.30,263.30 L248.80,262.20 L249.30,261.10 L249.80,259.99 L250.30,258.87 L250.80,257.76 L251.30,256.66 L251.80,255.58 L252.30,254.52 L252.80,253.49 L253.30,252.50 L253.80,251.56 L254.30,250.66 L254.80,249.80 L255.30,249.00 L255.80,248.25 L256.30,247.54 L256.80,246.88 L257.30,246.27 L257.80,245.71 L258.30,245.20 L258.80,244.73 L259.30,244.31 L259.80,243.93 L260.30,243.60 L260.80,243.30 L261.30,243.04 L261.80,242.81 L262.30,242.62 L262.80,242.46 L263.30,242.32 L263.80,242.21 L264.30,242.13 L264.80,242.07 L265.30,242.03 L265.80,242.00 L266.30,241.99 L266.80,242.00 L267.30,242.01 L267.80,242.04 L268.30,242.07 L268.80,242.10 L269.30,242.14 L269.80,242.18 L270.30,242.23 L270.80,242.27 L271.30,242.32 L271.80,242.36 L272.30,242.41 L272.80,242.45 L273.30,242.50 L273.80,242.55 L274.30,242.60 L274.80,242.65 L275.30,242.69 L275.80,242.74 L276.30,242.79 L276.80,242.84 L277.30,242.88 L277.80,242.93 L278.30,242.97 L278.80,243.02 L279.30,243.06 L279.80,243.10 L280.30,243.14 L280.80,243.18 L281.30,243.22 L281.80,243.25 L282.30,243.28 L282.80,243.31 L283.30,243.34 L283.80,243.37 L284.30,243.39 L284.80,243.41 L285.30,243.43 L285.80,243.44 L286.30,243.45 L286.80,243.46 L287.30,243.47 L287.80,243.47 L288.30,243.46 L288.80,243.46 L289.30,243.45 L289.80,243.43 L290.30,243.41 L290.80,243.39 L291.30,243.36 L291.80,243.33 L292.30,243.29 L292.80,243.25 L293.30,243.20 L293.80,243.15 L294.30,243.09 L294.80,243.02 L295.30,242.95 L295.80,242.87 L296.30,242.78 L296.80,242.69 L297.30,242.59 L297.80,242.49 L298.30,242.37 L298.80,242.25 L299.30,242.12 L299.80,241.99 L300.30,241.84 L300.80,241.69 L301.30,241.52 L301.80,241.35 L302.30,241.17 L302.80,240.98 L303.30,240.79 L303.80,240.58 L304.30,240.36 L304.80,240.13 L305.30,239.90 L305.80,239.65 L306.30,239.39 L306.80,239.12 L307.30,238.84 L307.80,238.55 L308.30,238.25 L308.80,237.93 L309.30,237.61 L309.80,237.27 L310.30,236.92 L310.80,236.56 L311.30,236.18 L311.80,235.80 L312.30,235.40 L312.80,235.00 L313.30,234.59 L313.80,234.16 L314.30,233.73 L314.80,233.29 L315.30,232.85 L315.80,232.39 L316.30,231.93 L316.80,231.46 L317.30,230.99 L317.80,230.51 L318.30,230.03 L318.80,229.54 L319.30,229.05 L319.80,228.56 L320.30,228.06 L320.80,227.56 L321.30,227.05 L321.80,226.55 L322.30,226.04 L322.80,225.54 L323.30,225.03 L323.80,224.52 L324.30,224.02 L324.80,223.51 L325.30,223.01 L325.80,222.51 L326.30,222.01 L326.80,221.51 L327.30,221.01 L327.80,220.52 L328.30,220.03 L328.80,219.54 L329.30,219.05 L329.80,218.57 L330.30,218.09 L330.80,217.61 L331.30,217.13 L331.80,216.66 L332.30,216.19 L332.80,215.72 L333.30,215.26 L333.80,214.80 L334.30,214.34 L334.80,213.89 L335.30,213.44 L335.80,213.00 L336.30,212.56 L336.80,212.12 L337.30,211.69 L337.80,211.26 L338.30,210.83 L338.80,210.41 L339.30,210.00 L339.80,209.59 L340.30,209.18 L340.80,208.78 L341.30,208.38 L341.80,207.99 L342.30,207.61 L342.80,207.22 L343.30,206.85 L343.80,206.48 L344.30,206.12 L344.80,205.76 L345.30,205.40 L345.80,205.06 L346.30,204.72 L346.80,204.38 L347.30,204.05 L347.80,203.73 L348.30,203.42 L348.80,203.11 L349.30,202.80 L349.80,202.51 L350.30,202.22 L350.80,201.94 L351.30,201.66 L351.80,201.39 L352.30,201.13 L352.80,200.88 L353.30,200.64 L353.80,200.40 L354.30,200.17 L354.80,199.94 L355.30,199.73 L355.80,199.52 L356.30,199.32 L356.80,199.13 L357.30,198.95 L357.80,198.78 L358.30,198.61 L358.80,198.46 L359.30,198.31 L359.80,198.17 L360.30,198.04 L360.80,197.92 L361.30,197.81 L361.80,197.71 L362.30,197.61 L362.80,197.53 L363.30,197.45 L363.80,197.39 L364.30,197.34 L364.80,197.29 L365.30,197.26 L365.80,197.23 L366.30,197.22 L366.80,197.21 L367.30,197.22 L367.80,197.24 L368.30,197.26 L368.80,197.30 L369.30,197.35 L369.80,197.41 L370.30,197.48 L370.80,197.56 L371.30,197.65 L371.80,197.75 L372.30,197.86 L372.80,197.97 L373.30,198.10 L373.80,198.24 L374.30,198.39 L374.80,198.54 L375.30,198.70 L375.80,198.88 L376.30,199.06 L376.80,199.25 L377.30,199.45 L377.80,199.66 L378.30,199.87 L378.80,200.09 L379.30,200.32 L379.80,200.56 L380.30,200.81 L380.80,201.06 L381.30,201.32 L381.80,201.59 L382.30,201.87 L382.80,202.15 L383.30,202.44 L383.80,202.74 L384.30,203.04 L384.80,203.35 L385.30,203.66 L385.80,203.98 L386.30,204.31 L386.80,204.64 L387.30,204.98 L387.80,205.33 L388.30,205.68 L388.80,206.03 L389.30,206.39 L389.80,206.76 L390.30,207.13 L390.80,207.51 L391.30,207.89 L391.80,208.27 L392.30,208.66 L392.80,209.05 L393.30,209.45 L393.80,209.85 L394.30,210.26 L394.80,210.67 L395.30,211.08 L395.80,211.50 L396.30,211.92 L396.80,212.34 L397.30,212.77 L397.80,213.20 L398.30,213.63 L398.80,214.07 L399.30,214.51 L399.80,214.95 L400.30,215.39 L400.80,215.83 L401.30,216.28 L401.80,216.73 L402.30,217.18 L402.80,217.63 L403.30,218.09 L403.80,218.54 L404.30,219.00 L404.80,219.46 L405.30,219.91 L405.80,220.37 L406.30,220.83 L406.80,221.29 L407.30,221.75 L407.80,222.21 L408.30,222.66 L408.80,223.12 L409.30,223.58 L409.80,224.03 L410.30,224.49 L410.80,224.94 L411.30,225.39 L411.80,225.84 L412.30,226.29 L412.80,226.74 L413.30,227.18 L413.80,227.63 L414.30,228.07 L414.80,228.50 L415.30,228.94 L415.80,229.37 L416.30,229.80 L416.80,230.22 L417.30,230.64 L417.80,231.06 L418.30,231.47 L418.80,231.88 L419.30,232.29 L419.80,232.69 L420.30,233.08 L420.80,233.47 L421.30,233.86 L421.80,234.24 L422.30,234.62 L422.80,234.99 L423.30,235.36 L423.80,235.72 L424.30,236.08 L424.80,236.43 L425.30,236.78 L425.80,237.12 L426.30,237.46 L426.80,237.79 L427.30,238.12 L427.80,238.44 L428.30,238.76 L428.80,239.07 L429.30,239.38 L429.80,239.69 L430.30,239.98 L430.80,240.28 L431.30,240.57 L431.80,240.85 L432.30,241.13 L432.80,241.40 L433.30,241.67 L433.80,241.93 L434.30,242.19 L434.80,242.44 L435.30,242.69 L435.80,242.93 L436.30,243.17 L436.80,243.40 L437.30,243.63 L437.80,243.85 L438.30,244.07 L438.80,244.28 L439.30,244.49 L439.80,244.69 L440.30,244.89 L440.80,245.08 L441.30,245.26 L441.80,245.44 L442.30,245.62 L442.80,245.79 L443.30,245.95 L443.80,246.11 L444.30,246.26 L444.80,246.41 L445.30,246.55 L445.80,246.69 L446.30,246.83 L446.80,246.96 L447.30,247.09 L447.80,247.21 L448.30,247.33 L448.80,247.44 L449.30,247.55 L449.80,247.66 L450.30,247.76 L450.80,247.86 L451.30,247.96 L451.80,248.05 L452.30,248.14 L452.80,248.22 L453.30,248.31 L453.80,248.39 L454.30,248.47 L454.80,248.54 L455.30,248.62 L455.80,248.69 L456.30,248.76 L456.80,248.83 L457.30,248.89 L457.80,248.96 L458.30,249.02 L458.80,249.08 L459.30,249.14 L459.80,249.19 L460.30,249.25 L460.80,249.31 L461.30,249.36 L461.80,249.41 L462.30,249.47 L462.80,249.52 L463.30,249.57 L463.80,249.62 L464.30,249.67 L464.80,249.73 L465.30,249.78 L465.80,249.83 L466.30,249.88 L466.80,249.93 L467.30,249.99 L467.80,250.04 L468.30,250.09 L468.80,250.15 L469.30,250.20 L469.80,250.26 L470.30,250.32 L470.80,250.38 L471.30,250.44 L471.80,250.50 L472.30,250.57 L472.80,250.63 L473.30,250.70 L473.80,250.77 L474.30,250.84 L474.80,250.92 L475.30,250.99 L475.80,251.07 L476.30,251.15 L476.80,251.24 L477.30,251.32 L477.80,251.41 L478.30,251.50 L478.80,251.59 L479.30,251.69 L479.80,251.78 L480.30,251.88 L480.80,251.98 L481.30,252.08 L481.80,252.18 L482.30,252.29 L482.80,252.39 L483.30,252.50 L483.80,252.61 L484.30,252.72 L484.80,252.83 L485.30,252.94 L485.80,253.05 L486.30,253.16 L486.80,253.28 L487.30,253.39 L487.80,253.50 L488.30,253.62 L488.80,253.74 L489.30,253.85 L489.80,253.97 L490.30,254.09 L490.80,254.20 L491.30,254.32 L491.80,254.44 L492.30,254.55 L492.80,254.67 L493.30,254.79 L493.80,254.91 L494.30,255.02 L494.80,255.14 L495.30,255.26 L495.80,255.37 L496.30,255.49 L496.80,255.61 L497.30,255.72 L497.80,255.84 L498.30,255.95 L498.80,256.07 L499.30,256.18 L499.80,256.30 L500.30,256.41 L500.80,256.53 L501.30,256.64 L501.80,256.76 L502.30,256.87 L502.80,256.99 L503.30,257.10 L503.80,257.21 L504.30,257.33 L504.80,257.44 L505.30,257.55 L505.80,257.67 L506.30,257.78 L506.80,257.89 L507.30,258.00 L507.80,258.11 L508.30,258.22 L508.80,258.33 L509.30,258.44 L509.80,258.55 L510.30,258.66 L510.80,258.77 L511.30,258.88 L511.80,258.99 L512.30,259.10 L512.80,259.21 L513.30,259.32 L513.80,259.42 L514.30,259.53 L514.80,259.64 L515.30,259.74 L515.80,259.85 L516.30,259.96 L516.80,260.06 L517.30,260.17 L517.80,260.27 L518.30,260.37 L518.80,260.48 L519.30,260.58 L519.80,260.68 L520.30,260.79 L520.80,260.89 L521.30,260.99 L521.80,261.09 L522.30,261.19 L522.80,261.29 L523.30,261.39 L523.80,261.49 L524.30,261.59 L524.80,261.69 L525.30,261.78 L525.80,261.88 L526.30,261.98 L526.80,262.07 L527.30,262.17 L527.80,262.26 L528.30,262.36 L528.80,262.45 L529.30,262.55 L529.80,262.64 L530.30,262.73 L530.80,262.82 L531.30,262.91 L531.80,263.00 L532.30,263.09 L532.80,263.18 L533.30,263.27 L533.80,263.36 L534.30,263.45 L534.80,263.53 L535.30,263.62 L535.80,263.71 L536.30,263.79 L536.80,263.88 L537.30,263.96 L537.80,264.04 L538.30,264.13 L538.80,264.21 L539.30,264.29 L539.80,264.37 L540.30,264.45 L540.80,264.53 L541.30,264.61 L541.80,264.68 L542.30,264.76 L542.80,264.84 L543.30,264.91 L543.80,264.99 L544.30,265.06 L544.80,265.14 L545.30,265.21 L545.80,265.28 L546.30,265.35 L546.80,265.42 L547.30,265.49 L547.80,265.56 L548.30,265.63 L548.80,265.70 L549.30,265.76 L549.80,265.83 L550.30,265.89 L550.80,265.96 L551.30,266.02 L551.80,266.08 L552.30,266.14 L552.80,266.21 L553.30,266.27 L553.80,266.32 L554.30,266.38 L554.80,266.44 L555.30,266.50 L555.80,266.55 L556.30,266.61 L556.80,266.66 L557.30,266.71 L557.80,266.77 L558.30,266.82 L558.80,266.87 L559.30,266.92 L559.80,266.97 L560.30,267.01 L560.80,267.06 L561.30,267.11 L561.80,267.15 L562.30,267.20 L562.80,267.24 L563.30,267.28 L563.80,267.33 L564.30,267.37 L564.80,267.41 L565.30,267.45 L565.80,267.49 L566.30,267.53 L566.80,267.56 L567.30,267.60 L567.80,267.64 L568.30,267.67 L568.80,267.71 L569.30,267.74 L569.80,267.77 L570.30,267.81 L570.80,267.84 L571.30,267.87 L571.80,267.90 L572.30,267.93 L572.80,267.96 L573.30,267.99 L573.80,268.02 L574.30,268.05 L574.80,268.07 L575.30,268.10 L575.80,268.13 L576.30,268.15 L576.80,268.18 L577.30,268.20 L577.80,268.23 L578.30,268.25 L578.80,268.27 L579.30,268.30 L579.80,268.32 L580.30,268.34 L580.80,268.36 L581.30,268.38 L581.80,268.40 L582.30,268.42 L582.80,268.44 L583.30,268.46 L583.80,268.48 L584.30,268.50 L584.80,268.51 L585.30,268.53 L585.80,268.55 L586.30,268.56 L586.80,268.58 L587.30,268.60 L587.80,268.61 L588.30,268.63 L588.80,268.64 L589.30,268.66 L589.80,268.67 L590.30,268.68 L590.80,268.70 L591.30,268.71 L591.80,268.72 L592.30,268.74 L592.80,268.75 L593.30,268.76 L593.80,268.77 L594.30,268.79 L594.80,268.80 L595.30,268.81 L595.80,268.82 L596.30,268.83 L596.80,268.84 L597.30,268.85 L597.80,268.86 L598.30,268.88 L598.80,268.89 L599.30,268.90 L599.80,268.91 L600.30,268.92 L600.80,268.93 L601.30,268.94 L601.80,268.95 L602.30,268.96 L602.80,268.96 L603.30,268.97 L603.80,268.98 L604.30,268.99 L604.80,269.00 L605.30,269.01 L605.80,269.02 L606.30,269.03 L606.80,269.04 L607.30,269.05 L607.80,269.06 L608.30,269.07 L608.80,269.08 L609.30,269.09 L609.80,269.10 L610.30,269.11 L610.80,269.12 L611.30,269.13 L611.80,269.14 L612.30,269.15 L612.80,269.16 L613.30,269.17 L613.80,269.18 L614.30,269.19 L614.80,269.20 L615.30,269.21 L615.80,269.22 L616.30,269.24 L616.80,269.25 L617.30,269.26 L617.80,269.27 L618.30,269.28 L618.80,269.30 L619.30,269.31 L619.80,269.32 L620.30,269.34 L620.80,269.35 L621.30,269.36 L621.80,269.38 L622.30,269.39 L622.80,269.41 L623.30,269.42 L623.80,269.44 L624.30,269.45 L624.80,269.47 L625.30,269.49 L625.80,269.50 L626.30,269.52 L626.80,269.54 L627.30,269.56 L627.80,269.57 L628.30,269.59 L628.80,269.61 L629.30,269.63 L629.80,269.65 L630.30,269.67 L630.80,269.69 L631.30,269.71 L631.80,269.73 L632.30,269.76 L632.80,269.78 L633.30,269.80 L633.80,269.82 L634.30,269.84 L634.80,269.87 L635.30,269.89 L635.80,269.91 L636.30,269.94 L636.80,269.96 L637.30,269.98 L637.80,270.01 L638.30,270.03 L638.80,270.05 L639.30,270.08 L639.80,270.10 L640.30,270.13 L640.80,270.15 L641.30,270.18 L641.80,270.20 L642.30,270.23 L642.80,270.25 L643.30,270.28 L643.80,270.30 L644.30,270.33 L644.80,270.35 L645.30,270.38 L645.80,270.40 L646.30,270.43 L646.80,270.45 L647.30,270.48 L647.80,270.50 L648.30,270.53 L648.80,270.55 L649.30,270.58 L649.80,270.60 L650.30,270.63 L650.80,270.65 L651.30,270.67 L651.80,270.70 L652.30,270.72 L652.80,270.75 L653.30,270.77 L653.80,270.79 L654.30,270.82 L654.80,270.84 L655.30,270.86 L655.80,270.88 L656.30,270.91 L656.80,270.93 L657.30,270.95 L657.80,270.97 L658.30,270.99 L658.80,271.01 L659.30,271.03 L659.80,271.05 L660.30,271.07 L660.80,271.09 L661.30,271.11 L661.80,271.13 L662.30,271.15 L662.80,271.17 L663.30,271.19 L663.80,271.20 L664.30,271.22 L664.80,271.24 L665.30,271.25 L665.80,271.27 L666.30,271.28 L666.80,271.30 L667.30,271.31 L667.80,271.33 L668.30,271.34 L668.80,271.35 L669.30,271.36 L669.80,271.38 L670.30,271.39 L670.80,271.40 L671.30,271.41 L671.80,271.42 L672.30,271.42 L672.80,271.43 L673.30,271.44 L673.80,271.45 L674.30,271.45 L674.80,271.46 L675.30,271.46 L675.80,271.47 L676.30,271.47 L676.80,271.47 L677.30,271.48 L677.80,271.48 L678.30,271.48 L678.80,271.48 L679.30,271.48 L679.80,271.48 L680.30,271.48 L680.80,271.48 L681.30,271.48 L681.80,271.47 L682.30,271.47 L682.80,271.47 L683.30,271.47 L683.80,271.47 L684.30,271.47 L684.80,271.47 L685.30,271.47 L685.80,271.47 L686.30,271.47 L686.80,271.47 L687.30,271.48 L687.80,271.48 L688.30,271.49 L688.80,271.49 L689.30,271.50 L689.80,271.51 L690.30,271.52 L690.80,271.53 L691.30,271.54 L691.80,271.55 L692.30,271.56 L692.80,271.58 L693.30,271.60 L693.80,271.62 L694.30,271.64 L694.80,271.66 L695.30,271.69 L695.80,271.71 L696.30,271.74 L696.80,271.77 L697.30,271.81 L697.80,271.84 L698.30,271.88 L698.80,271.92 L699.30,271.97 L699.80,272.01 L700.30,272.06 L700.80,272.11 L701.30,272.17 L701.80,272.22 L702.30,272.28 L702.80,272.35 L703.30,272.41 L703.80,272.48 L704.30,272.56 L704.80,272.63 L705.30,272.71 L705.80,272.79 L706.30,272.88 L706.80,272.97 L707.30,273.07 L707.80,273.16 L708.30,273.26 L708.80,273.37 L709.30,273.48 L709.80,273.59 L710.30,273.70 L710.80,273.82 L711.30,273.94 L711.80,274.07 L712.30,274.19 L712.80,274.32 L713.30,274.45 L713.80,274.58 L714.30,274.72 L714.80,274.86 L715.30,275.00 L715.80,275.14 L716.30,275.28 L716.80,275.43 L717.30,275.58 L717.80,275.72 L718.30,275.87 L718.80,276.03 L719.30,276.18 L719.80,276.33 L720.30,276.49 L720.80,276.64 L721.30,276.80 L721.80,276.95 L722.30,277.11 L722.80,277.27 L723.30,277.42 L723.80,277.58 L724.30,277.74 L724.80,277.90 L725.30,278.05 L725.80,278.21 L726.30,278.37 L726.80,278.52 L727.30,278.68 L727.80,278.83 L728.30,278.99 L728.80,279.14 L729.30,279.29 L729.80,279.44 L730.30,279.59 L730.80,279.74 L731.30,279.89 L731.80,280.03 L732.30,280.17 L732.80,280.32 L733.30,280.46 L733.80,280.59 L734.30,280.73 L734.80,280.86 L735.30,280.99 L735.80,281.12 L736.30,281.24 L736.80,281.37 L737.30,281.49 L737.80,281.60 L738.30,281.72 L738.80,281.83 L739.30,281.93 L739.80,282.04 L740.30,282.14 L740.80,282.23 L741.30,282.33 L741.80,282.42 L742.30,282.50 L742.80,282.58 L743.30,282.66 L743.80,282.73 L744.30,282.80 L744.80,282.86 L745.30,282.92 L745.80,282.98 L746.30,283.03 L746.80,283.08 L747.30,283.12 L747.80,283.16 L748.30,283.19 L748.80,283.22 L749.30,283.24 L749.80,283.27 L750.30,283.28 L750.80,283.30 L751.30,283.31 L751.80,283.32 L752.30,283.32 L752.80,283.32 L753.30,283.31 L753.80,283.31 L754.30,283.30 L754.80,283.28 L755.30,283.27 L755.80,283.24 L756.30,283.22 L756.80,283.19 L757.30,283.17 L757.80,283.13 L758.30,283.10 L758.80,283.06 L759.30,283.02 L759.80,282.97 L760.30,282.93 L760.80,282.88 L761.30,282.83 L761.80,282.77 L762.30,282.72 L762.80,282.66 L763.30,282.60 L763.80,282.54 L764.30,282.47 L764.80,282.41 L765.30,282.34 L765.80,282.27 L766.30,282.19 L766.80,282.12 L767.30,282.04 L767.80,281.96 L768.30,281.89 L768.80,281.80 L769.30,281.72 L769.80,281.64 L770.30,281.55 L770.80,281.47 L771.30,281.38 L771.80,281.29 L772.30,281.20 L772.80,281.11 L773.30,281.01 L773.80,280.92 L774.30,280.83 L774.80,280.73 L775.30,280.64 L775.80,280.54 L776.30,280.44 L776.80,280.35 L777.30,280.25 L777.80,280.15 L778.30,280.05 L778.80,279.95 L779.30,279.85 L779.80,279.75 L780.30,279.65 L780.80,279.55 L781.30,279.45 L781.80,279.35 L782.30,279.25 L782.80,279.15 L783.30,279.05 L783.80,278.95 L784.30,278.86 L784.80,278.76 L785.30,278.66 L785.80,278.56 L786.30,278.47 L786.80,278.37 L787.30,278.28 L787.80,278.18 L788.30,278.09 L788.80,278.00 L789.30,277.90 L789.80,277.81 L790.30,277.72 L790.80,277.64 L791.30,277.55 L791.80,277.46 L792.30,277.38 L792.80,277.30 L793.30,277.22 L793.80,277.14 L794.30,277.06 L794.80,276.98 L795.30,276.91 L795.80,276.83 L796.30,276.76 L796.80,276.70 L797.30,276.63 L797.80,276.57 L798.30,276.51 L798.80,276.45 L799.30,276.40 L799.80,276.35 L800.30,276.30 L800.80,276.26 L801.30,276.22 L801.80,276.19 L802.30,276.16 L802.80,276.13 L803.30,276.11 L803.80,276.09 L804.30,276.08 L804.80,276.08 L805.30,276.08 L805.80,276.08 L806.30,276.09 L806.80,276.11 L807.30,276.13 L807.80,276.16 L808.30,276.20 L808.80,276.24 L809.30,276.29 L809.80,276.35 L810.30,276.41 L810.80,276.48 L811.30,276.56 L811.80,276.65 L812.30,276.74 L812.80,276.84 L813.30,276.95 L813.80,277.07 L814.30,277.20 L814.80,277.34 L815.30,277.48 L815.80,277.64 L816.30,277.80 L816.80,277.97 L817.30,278.16 L817.80,278.35 L818.30,278.55 L818.80,278.76 L819.30,278.99"/>
<path class="c" stroke="#f09c00" stroke-width="3.3" stroke-dasharray="8.62 4.3" stroke-dashoffset="0" d="M200.30,272.84 L200.80,272.85 L201.30,272.85 L201.80,272.86 L202.30,272.86 L202.80,272.86 L203.30,272.86 L203.80,272.86 L204.30,272.86 L204.80,272.85 L205.30,272.85 L205.80,272.84 L206.30,272.83 L206.80,272.83 L207.30,272.83 L207.80,272.82 L208.30,272.83 L208.80,272.83 L209.30,272.84 L209.80,272.86 L210.30,272.89 L210.80,272.93 L211.30,272.99 L211.80,273.06 L212.30,273.14 L212.80,273.25 L213.30,273.37 L213.80,273.52 L214.30,273.69 L214.80,273.88 L215.30,274.10 L215.80,274.33 L216.30,274.58 L216.80,274.84 L217.30,275.12 L217.80,275.41 L218.30,275.71 L218.80,276.02 L219.30,276.33 L219.80,276.65 L220.30,276.97 L220.80,277.29 L221.30,277.61 L221.80,277.92 L222.30,278.23 L222.80,278.54 L223.30,278.84 L223.80,279.12 L224.30,279.40 L224.80,279.66 L225.30,279.91 L225.80,280.14 L226.30,280.35 L226.80,280.54 L227.30,280.71 L227.80,280.85 L228.30,280.97 L228.80,281.06 L229.30,281.12 L229.80,281.15 L230.30,281.15 L230.80,281.12 L231.30,281.04 L231.80,280.94 L232.30,280.79 L232.80,280.60 L233.30,280.37 L233.80,280.09 L234.30,279.77 L234.80,279.40 L235.30,278.98 L235.80,278.52 L236.30,278.00 L236.80,277.45 L237.30,276.84 L237.80,276.20 L238.30,275.51 L238.80,274.79 L239.30,274.02 L239.80,273.22 L240.30,272.39 L240.80,271.52 L241.30,270.61 L241.80,269.68 L242.30,268.71 L242.80,267.72 L243.30,266.70 L243.80,265.65 L244.30,264.58 L244.80,263.49 L245.30,262.38 L245.80,261.26 L246.30,260.12 L246.80,258.98 L247.30,257.83 L247.80,256.68 L248.30,255.53 L248.80,254.38 L249.30,253.24 L249.80,252.11 L250.30,250.99 L250.80,249.89 L251.30,248.81 L251.80,247.75 L252.30,246.71 L252.80,245.71 L253.30,244.74 L253.80,243.80 L254.30,242.90 L254.80,242.04 L255.30,241.22 L255.80,240.45 L256.30,239.72 L256.80,239.02 L257.30,238.37 L257.80,237.76 L258.30,237.18 L258.80,236.64 L259.30,236.13 L259.80,235.66 L260.30,235.22 L260.80,234.82 L261.30,234.44 L261.80,234.10 L262.30,233.78 L262.80,233.49 L263.30,233.23 L263.80,233.00 L264.30,232.79 L264.80,232.60 L265.30,232.44 L265.80,232.29 L266.30,232.17 L266.80,232.07 L267.30,231.99 L267.80,231.93 L268.30,231.88 L268.80,231.85 L269.30,231.83 L269.80,231.83 L270.30,231.84 L270.80,231.86 L271.30,231.89 L271.80,231.93 L272.30,231.98 L272.80,232.03 L273.30,232.10 L273.80,232.17 L274.30,232.24 L274.80,232.32 L275.30,232.39 L275.80,232.47 L276.30,232.55 L276.80,232.63 L277.30,232.71 L277.80,232.79 L278.30,232.86 L278.80,232.94 L279.30,233.01 L279.80,233.07 L280.30,233.14 L280.80,233.20 L281.30,233.26 L281.80,233.32 L282.30,233.38 L282.80,233.43 L283.30,233.48 L283.80,233.53 L284.30,233.57 L284.80,233.61 L285.30,233.65 L285.80,233.69 L286.30,233.72 L286.80,233.75 L287.30,233.77 L287.80,233.79 L288.30,233.81 L288.80,233.82 L289.30,233.83 L289.80,233.84 L290.30,233.84 L290.80,233.83 L291.30,233.83 L291.80,233.82 L292.30,233.80 L292.80,233.78 L293.30,233.75 L293.80,233.72 L294.30,233.69 L294.80,233.65 L295.30,233.61 L295.80,233.56 L296.30,233.50 L296.80,233.44 L297.30,233.38 L297.80,233.31 L298.30,233.23 L298.80,233.15 L299.30,233.06 L299.80,232.97 L300.30,232.87 L300.80,232.76 L301.30,232.65 L301.80,232.54 L302.30,232.41 L302.80,232.28 L303.30,232.15 L303.80,232.00 L304.30,231.85 L304.80,231.70 L305.30,231.54 L305.80,231.37 L306.30,231.19 L306.80,231.01 L307.30,230.82 L307.80,230.62 L308.30,230.41 L308.80,230.20 L309.30,229.98 L309.80,229.75 L310.30,229.52 L310.80,229.27 L311.30,229.02 L311.80,228.76 L312.30,228.50 L312.80,228.22 L313.30,227.94 L313.80,227.65 L314.30,227.35 L314.80,227.04 L315.30,226.72 L315.80,226.40 L316.30,226.07 L316.80,225.72 L317.30,225.38 L317.80,225.02 L318.30,224.66 L318.80,224.29 L319.30,223.91 L319.80,223.52 L320.30,223.14 L320.80,222.74 L321.30,222.34 L321.80,221.93 L322.30,221.52 L322.80,221.10 L323.30,220.68 L323.80,220.26 L324.30,219.82 L324.80,219.39 L325.30,218.95 L325.80,218.51 L326.30,218.07 L326.80,217.62 L327.30,217.17 L327.80,216.71 L328.30,216.26 L328.80,215.80 L329.30,215.34 L329.80,214.88 L330.30,214.42 L330.80,213.95 L331.30,213.49 L331.80,213.03 L332.30,212.56 L332.80,212.10 L333.30,211.63 L333.80,211.17 L334.30,210.70 L334.80,210.24 L335.30,209.78 L335.80,209.31 L336.30,208.86 L336.80,208.40 L337.30,207.94 L337.80,207.49 L338.30,207.04 L338.80,206.59 L339.30,206.15 L339.80,205.71 L340.30,205.27 L340.80,204.83 L341.30,204.41 L341.80,203.98 L342.30,203.56 L342.80,203.14 L343.30,202.73 L343.80,202.32 L344.30,201.92 L344.80,201.53 L345.30,201.14 L345.80,200.76 L346.30,200.38 L346.80,200.01 L347.30,199.65 L347.80,199.29 L348.30,198.95 L348.80,198.61 L349.30,198.27 L349.80,197.95 L350.30,197.63 L350.80,197.33 L351.30,197.03 L351.80,196.74 L352.30,196.46 L352.80,196.19 L353.30,195.93 L353.80,195.68 L354.30,195.44 L354.80,195.21 L355.30,194.99 L355.80,194.79 L356.30,194.59 L356.80,194.41 L357.30,194.23 L357.80,194.07 L358.30,193.91 L358.80,193.77 L359.30,193.64 L359.80,193.52 L360.30,193.41 L360.80,193.31 L361.30,193.22 L361.80,193.14 L362.30,193.07 L362.80,193.01 L363.30,192.96 L363.80,192.92 L364.30,192.89 L364.80,192.87 L365.30,192.86 L365.80,192.85 L366.30,192.86 L366.80,192.88 L367.30,192.90 L367.80,192.94 L368.30,192.98 L368.80,193.03 L369.30,193.10 L369.80,193.17 L370.30,193.25 L370.80,193.33 L371.30,193.43 L371.80,193.53 L372.30,193.65 L372.80,193.77 L373.30,193.90 L373.80,194.03 L374.30,194.18 L374.80,194.33 L375.30,194.49 L375.80,194.66 L376.30,194.84 L376.80,195.02 L377.30,195.21 L377.80,195.41 L378.30,195.62 L378.80,195.83 L379.30,196.05 L379.80,196.28 L380.30,196.51 L380.80,196.76 L381.30,197.00 L381.80,197.26 L382.30,197.52 L382.80,197.79 L383.30,198.06 L383.80,198.34 L384.30,198.63 L384.80,198.92 L385.30,199.22 L385.80,199.53 L386.30,199.84 L386.80,200.16 L387.30,200.48 L387.80,200.81 L388.30,201.14 L388.80,201.48 L389.30,201.83 L389.80,202.18 L390.30,202.53 L390.80,202.89 L391.30,203.26 L391.80,203.63 L392.30,204.00 L392.80,204.39 L393.30,204.77 L393.80,205.16 L394.30,205.55 L394.80,205.95 L395.30,206.35 L395.80,206.76 L396.30,207.17 L396.80,207.58 L397.30,208.00 L397.80,208.42 L398.30,208.84 L398.80,209.26 L399.30,209.69 L399.80,210.12 L400.30,210.56 L400.80,210.99 L401.30,211.43 L401.80,211.87 L402.30,212.31 L402.80,212.75 L403.30,213.20 L403.80,213.64 L404.30,214.09 L404.80,214.54 L405.30,214.99 L405.80,215.44 L406.30,215.89 L406.80,216.34 L407.30,216.79 L407.80,217.24 L408.30,217.69 L408.80,218.14 L409.30,218.60 L409.80,219.05 L410.30,219.50 L410.80,219.94 L411.30,220.39 L411.80,220.84 L412.30,221.28 L412.80,221.73 L413.30,222.17 L413.80,222.61 L414.30,223.05 L414.80,223.49 L415.30,223.92 L415.80,224.35 L416.30,224.78 L416.80,225.21 L417.30,225.63 L417.80,226.05 L418.30,226.47 L418.80,226.89 L419.30,227.30 L419.80,227.71 L420.30,228.11 L420.80,228.51 L421.30,228.91 L421.80,229.30 L422.30,229.68 L422.80,230.07 L423.30,230.45 L423.80,230.82 L424.30,231.19 L424.80,231.55 L425.30,231.91 L425.80,232.26 L426.30,232.61 L426.80,232.95 L427.30,233.28 L427.80,233.61 L428.30,233.94 L428.80,234.25 L429.30,234.56 L429.80,234.87 L430.30,235.16 L430.80,235.45 L431.30,235.74 L431.80,236.01 L432.30,236.28 L432.80,236.54 L433.30,236.80 L433.80,237.05 L434.30,237.30 L434.80,237.54 L435.30,237.77 L435.80,238.00 L436.30,238.22 L436.80,238.43 L437.30,238.64 L437.80,238.85 L438.30,239.05 L438.80,239.24 L439.30,239.43 L439.80,239.62 L440.30,239.80 L440.80,239.97 L441.30,240.14 L441.80,240.31 L442.30,240.47 L442.80,240.63 L443.30,240.78 L443.80,240.93 L444.30,241.07 L444.80,241.21 L445.30,241.35 L445.80,241.48 L446.30,241.61 L446.80,241.74 L447.30,241.86 L447.80,241.98 L448.30,242.10 L448.80,242.21 L449.30,242.33 L449.80,242.43 L450.30,242.54 L450.80,242.64 L451.30,242.74 L451.80,242.84 L452.30,242.93 L452.80,243.03 L453.30,243.12 L453.80,243.21 L454.30,243.29 L454.80,243.38 L455.30,243.46 L455.80,243.55 L456.30,243.63 L456.80,243.71 L457.30,243.78 L457.80,243.86 L458.30,243.94 L458.80,244.01 L459.30,244.09 L459.80,244.16 L460.30,244.23 L460.80,244.30 L461.30,244.37 L461.80,244.44 L462.30,244.51 L462.80,244.58 L463.30,244.65 L463.80,244.72 L464.30,244.78 L464.80,244.85 L465.30,244.92 L465.80,244.98 L466.30,245.05 L466.80,245.11 L467.30,245.18 L467.80,245.24 L468.30,245.31 L468.80,245.37 L469.30,245.44 L469.80,245.50 L470.30,245.57 L470.80,245.63 L471.30,245.70 L471.80,245.76 L472.30,245.83 L472.80,245.89 L473.30,245.96 L473.80,246.03 L474.30,246.09 L474.80,246.16 L475.30,246.23 L475.80,246.30 L476.30,246.37 L476.80,246.44 L477.30,246.51 L477.80,246.58 L478.30,246.66 L478.80,246.73 L479.30,246.80 L479.80,246.88 L480.30,246.96 L480.80,247.03 L481.30,247.11 L481.80,247.19 L482.30,247.28 L482.80,247.36 L483.30,247.44 L483.80,247.53 L484.30,247.62 L484.80,247.70 L485.30,247.79 L485.80,247.89 L486.30,247.98 L486.80,248.07 L487.30,248.17 L487.80,248.27 L488.30,248.37 L488.80,248.47 L489.30,248.58 L489.80,248.68 L490.30,248.79 L490.80,248.90 L491.30,249.02 L491.80,249.13 L492.30,249.25 L492.80,249.37 L493.30,249.49 L493.80,249.61 L494.30,249.74 L494.80,249.87 L495.30,250.00 L495.80,250.13 L496.30,250.26 L496.80,250.40 L497.30,250.53 L497.80,250.67 L498.30,250.81 L498.80,250.96 L499.30,251.10 L499.80,251.24 L500.30,251.39 L500.80,251.54 L501.30,251.69 L501.80,251.83 L502.30,251.99 L502.80,252.14 L503.30,252.29 L503.80,252.44 L504.30,252.60 L504.80,252.75 L505.30,252.91 L505.80,253.06 L506.30,253.22 L506.80,253.38 L507.30,253.53 L507.80,253.69 L508.30,253.85 L508.80,254.01 L509.30,254.17 L509.80,254.32 L510.30,254.48 L510.80,254.64 L511.30,254.80 L511.80,254.96 L512.30,255.11 L512.80,255.27 L513.30,255.43 L513.80,255.58 L514.30,255.74 L514.80,255.89 L515.30,256.05 L515.80,256.20 L516.30,256.36 L516.80,256.51 L517.30,256.66 L517.80,256.81 L518.30,256.96 L518.80,257.10 L519.30,257.25 L519.80,257.40 L520.30,257.54 L520.80,257.68 L521.30,257.82 L521.80,257.96 L522.30,258.10 L522.80,258.24 L523.30,258.37 L523.80,258.50 L524.30,258.63 L524.80,258.76 L525.30,258.89 L525.80,259.01 L526.30,259.14 L526.80,259.26 L527.30,259.38 L527.80,259.49 L528.30,259.61 L528.80,259.72 L529.30,259.83 L529.80,259.94 L530.30,260.05 L530.80,260.15 L531.30,260.26 L531.80,260.36 L532.30,260.46 L532.80,260.56 L533.30,260.66 L533.80,260.76 L534.30,260.85 L534.80,260.94 L535.30,261.04 L535.80,261.13 L536.30,261.21 L536.80,261.30 L537.30,261.39 L537.80,261.47 L538.30,261.55 L538.80,261.64 L539.30,261.72 L539.80,261.80 L540.30,261.87 L540.80,261.95 L541.30,262.03 L541.80,262.10 L542.30,262.18 L542.80,262.25 L543.30,262.32 L543.80,262.39 L544.30,262.46 L544.80,262.53 L545.30,262.59 L545.80,262.66 L546.30,262.73 L546.80,262.79 L547.30,262.86 L547.80,262.92 L548.30,262.98 L548.80,263.04 L549.30,263.10 L549.80,263.16 L550.30,263.22 L550.80,263.28 L551.30,263.34 L551.80,263.40 L552.30,263.45 L552.80,263.51 L553.30,263.57 L553.80,263.62 L554.30,263.68 L554.80,263.73 L555.30,263.78 L555.80,263.84 L556.30,263.89 L556.80,263.94 L557.30,264.00 L557.80,264.05 L558.30,264.10 L558.80,264.15 L559.30,264.21 L559.80,264.26 L560.30,264.31 L560.80,264.36 L561.30,264.41 L561.80,264.46 L562.30,264.51 L562.80,264.56 L563.30,264.61 L563.80,264.66 L564.30,264.71 L564.80,264.76 L565.30,264.80 L565.80,264.85 L566.30,264.90 L566.80,264.95 L567.30,265.00 L567.80,265.04 L568.30,265.09 L568.80,265.14 L569.30,265.18 L569.80,265.23 L570.30,265.28 L570.80,265.32 L571.30,265.37 L571.80,265.41 L572.30,265.46 L572.80,265.50 L573.30,265.55 L573.80,265.59 L574.30,265.64 L574.80,265.68 L575.30,265.72 L575.80,265.77 L576.30,265.81 L576.80,265.85 L577.30,265.90 L577.80,265.94 L578.30,265.98 L578.80,266.02 L579.30,266.07 L579.80,266.11 L580.30,266.15 L580.80,266.19 L581.30,266.23 L581.80,266.27 L582.30,266.31 L582.80,266.35 L583.30,266.39 L583.80,266.43 L584.30,266.47 L584.80,266.51 L585.30,266.55 L585.80,266.59 L586.30,266.63 L586.80,266.67 L587.30,266.71 L587.80,266.75 L588.30,266.79 L588.80,266.82 L589.30,266.86 L589.80,266.90 L590.30,266.94 L590.80,266.97 L591.30,267.01 L591.80,267.05 L592.30,267.09 L592.80,267.12 L593.30,267.16 L593.80,267.20 L594.30,267.23 L594.80,267.27 L595.30,267.30 L595.80,267.34 L596.30,267.37 L596.80,267.41 L597.30,267.45 L597.80,267.48 L598.30,267.52 L598.80,267.55 L599.30,267.58 L599.80,267.62 L600.30,267.65 L600.80,267.69 L601.30,267.72 L601.80,267.75 L602.30,267.79 L602.80,267.82 L603.30,267.85 L603.80,267.89 L604.30,267.92 L604.80,267.95 L605.30,267.99 L605.80,268.02 L606.30,268.05 L606.80,268.08 L607.30,268.12 L607.80,268.15 L608.30,268.18 L608.80,268.21 L609.30,268.24 L609.80,268.27 L610.30,268.31 L610.80,268.34 L611.30,268.37 L611.80,268.40 L612.30,268.43 L612.80,268.46 L613.30,268.49 L613.80,268.52 L614.30,268.55 L614.80,268.58 L615.30,268.61 L615.80,268.64 L616.30,268.67 L616.80,268.70 L617.30,268.73 L617.80,268.76 L618.30,268.79 L618.80,268.82 L619.30,268.85 L619.80,268.88 L620.30,268.91 L620.80,268.93 L621.30,268.96 L621.80,268.99 L622.30,269.02 L622.80,269.05 L623.30,269.08 L623.80,269.11 L624.30,269.13 L624.80,269.16 L625.30,269.19 L625.80,269.22 L626.30,269.25 L626.80,269.27 L627.30,269.30 L627.80,269.33 L628.30,269.36 L628.80,269.38 L629.30,269.41 L629.80,269.44 L630.30,269.47 L630.80,269.49 L631.30,269.52 L631.80,269.55 L632.30,269.57 L632.80,269.60 L633.30,269.63 L633.80,269.65 L634.30,269.68 L634.80,269.70 L635.30,269.73 L635.80,269.76 L636.30,269.78 L636.80,269.81 L637.30,269.83 L637.80,269.86 L638.30,269.88 L638.80,269.91 L639.30,269.93 L639.80,269.96 L640.30,269.98 L640.80,270.01 L641.30,270.03 L641.80,270.05 L642.30,270.08 L642.80,270.10 L643.30,270.13 L643.80,270.15 L644.30,270.17 L644.80,270.19 L645.30,270.22 L645.80,270.24 L646.30,270.26 L646.80,270.28 L647.30,270.31 L647.80,270.33 L648.30,270.35 L648.80,270.37 L649.30,270.39 L649.80,270.41 L650.30,270.43 L650.80,270.45 L651.30,270.47 L651.80,270.49 L652.30,270.51 L652.80,270.53 L653.30,270.55 L653.80,270.57 L654.30,270.59 L654.80,270.61 L655.30,270.63 L655.80,270.65 L656.30,270.66 L656.80,270.68 L657.30,270.70 L657.80,270.72 L658.30,270.73 L658.80,270.75 L659.30,270.77 L659.80,270.78 L660.30,270.80 L660.80,270.81 L661.30,270.83 L661.80,270.84 L662.30,270.86 L662.80,270.87 L663.30,270.89 L663.80,270.90 L664.30,270.92 L664.80,270.93 L665.30,270.94 L665.80,270.95 L666.30,270.97 L666.80,270.98 L667.30,270.99 L667.80,271.00 L668.30,271.01 L668.80,271.02 L669.30,271.03 L669.80,271.04 L670.30,271.05 L670.80,271.06 L671.30,271.07 L671.80,271.08 L672.30,271.09 L672.80,271.10 L673.30,271.11 L673.80,271.11 L674.30,271.12 L674.80,271.13 L675.30,271.13 L675.80,271.14 L676.30,271.15 L676.80,271.15 L677.30,271.16 L677.80,271.16 L678.30,271.16 L678.80,271.17 L679.30,271.17 L679.80,271.18 L680.30,271.18 L680.80,271.18 L681.30,271.19 L681.80,271.19 L682.30,271.20 L682.80,271.20 L683.30,271.21 L683.80,271.21 L684.30,271.22 L684.80,271.22 L685.30,271.23 L685.80,271.24 L686.30,271.24 L686.80,271.25 L687.30,271.26 L687.80,271.27 L688.30,271.29 L688.80,271.30 L689.30,271.31 L689.80,271.33 L690.30,271.34 L690.80,271.36 L691.30,271.38 L691.80,271.40 L692.30,271.42 L692.80,271.44 L693.30,271.47 L693.80,271.49 L694.30,271.52 L694.80,271.55 L695.30,271.58 L695.80,271.61 L696.30,271.65 L696.80,271.68 L697.30,271.72 L697.80,271.76 L698.30,271.80 L698.80,271.85 L699.30,271.90 L699.80,271.95 L700.30,272.00 L700.80,272.05 L701.30,272.11 L701.80,272.17 L702.30,272.23 L702.80,272.30 L703.30,272.36 L703.80,272.43 L704.30,272.51 L704.80,272.58 L705.30,272.66 L705.80,272.74 L706.30,272.83 L706.80,272.92 L707.30,273.01 L707.80,273.11 L708.30,273.20 L708.80,273.30 L709.30,273.41 L709.80,273.51 L710.30,273.62 L710.80,273.74 L711.30,273.85 L711.80,273.97 L712.30,274.09 L712.80,274.21 L713.30,274.33 L713.80,274.46 L714.30,274.59 L714.80,274.72 L715.30,274.85 L715.80,274.98 L716.30,275.12 L716.80,275.25 L717.30,275.39 L717.80,275.53 L718.30,275.67 L718.80,275.81 L719.30,275.96 L719.80,276.10 L720.30,276.24 L720.80,276.39 L721.30,276.54 L721.80,276.68 L722.30,276.83 L722.80,276.98 L723.30,277.12 L723.80,277.27 L724.30,277.42 L724.80,277.57 L725.30,277.72 L725.80,277.87 L726.30,278.01 L726.80,278.16 L727.30,278.31 L727.80,278.46 L728.30,278.60 L728.80,278.75 L729.30,278.89 L729.80,279.04 L730.30,279.18 L730.80,279.32 L731.30,279.46 L731.80,279.60 L732.30,279.74 L732.80,279.87 L733.30,280.01 L733.80,280.14 L734.30,280.27 L734.80,280.40 L735.30,280.53 L735.80,280.66 L736.30,280.78 L736.80,280.90 L737.30,281.02 L737.80,281.14 L738.30,281.25 L738.80,281.37 L739.30,281.47 L739.80,281.58 L740.30,281.69 L740.80,281.79 L741.30,281.88 L741.80,281.98 L742.30,282.07 L742.80,282.16 L743.30,282.24 L743.80,282.33 L744.30,282.40 L744.80,282.48 L745.30,282.55 L745.80,282.61 L746.30,282.68 L746.80,282.74 L747.30,282.79 L747.80,282.85 L748.30,282.89 L748.80,282.94 L749.30,282.98 L749.80,283.02 L750.30,283.05 L750.80,283.09 L751.30,283.11 L751.80,283.14 L752.30,283.16 L752.80,283.18 L753.30,283.19 L753.80,283.20 L754.30,283.21 L754.80,283.21 L755.30,283.21 L755.80,283.21 L756.30,283.20 L756.80,283.19 L757.30,283.18 L757.80,283.16 L758.30,283.14 L758.80,283.12 L759.30,283.09 L759.80,283.06 L760.30,283.03 L760.80,282.99 L761.30,282.95 L761.80,282.91 L762.30,282.87 L762.80,282.82 L763.30,282.76 L763.80,282.71 L764.30,282.65 L764.80,282.59 L765.30,282.52 L765.80,282.46 L766.30,282.39 L766.80,282.31 L767.30,282.24 L767.80,282.16 L768.30,282.07 L768.80,281.99 L769.30,281.90 L769.80,281.81 L770.30,281.71 L770.80,281.61 L771.30,281.51 L771.80,281.41 L772.30,281.31 L772.80,281.20 L773.30,281.09 L773.80,280.98 L774.30,280.87 L774.80,280.75 L775.30,280.64 L775.80,280.52 L776.30,280.40 L776.80,280.28 L777.30,280.16 L777.80,280.04 L778.30,279.92 L778.80,279.80 L779.30,279.68 L779.80,279.55 L780.30,279.43 L780.80,279.31 L781.30,279.18 L781.80,279.06 L782.30,278.94 L782.80,278.82 L783.30,278.70 L783.80,278.58 L784.30,278.46 L784.80,278.34 L785.30,278.22 L785.80,278.11 L786.30,277.99 L786.80,277.88 L787.30,277.77 L787.80,277.66 L788.30,277.55 L788.80,277.45 L789.30,277.35 L789.80,277.25 L790.30,277.15 L790.80,277.05 L791.30,276.96 L791.80,276.87 L792.30,276.79 L792.80,276.71 L793.30,276.63 L793.80,276.55 L794.30,276.48 L794.80,276.41 L795.30,276.35 L795.80,276.29 L796.30,276.23 L796.80,276.18 L797.30,276.13 L797.80,276.09 L798.30,276.05 L798.80,276.01 L799.30,275.98 L799.80,275.95 L800.30,275.93 L800.80,275.91 L801.30,275.90 L801.80,275.89 L802.30,275.88 L802.80,275.88 L803.30,275.89 L803.80,275.89 L804.30,275.91 L804.80,275.92 L805.30,275.95 L805.80,275.97 L806.30,276.01 L806.80,276.04 L807.30,276.09 L807.80,276.13 L808.30,276.19 L808.80,276.24 L809.30,276.30 L809.80,276.37 L810.30,276.45 L810.80,276.52 L811.30,276.61 L811.80,276.70 L812.30,276.79 L812.80,276.89 L813.30,276.99 L813.80,277.10 L814.30,277.22 L814.80,277.34 L815.30,277.47 L815.80,277.60 L816.30,277.74 L816.80,277.89 L817.30,278.04 L817.80,278.20 L818.30,278.36 L818.80,278.53 L819.30,278.70"/>
<path class="f" style="stroke-width:3.4" d="M199.85,37.10 V322.00"/>
<path class="f" style="stroke-width:3.5" d="M198.15,38.9 H827.75"/>
<path class="f" style="stroke-width:3.3" d="M826.1,37.10 V322.00"/>
<path class="f" style="stroke-width:3.1" d="M198.15,320.45 H827.75"/>
<text x="114.59 133.37 143.21 162.29" y="93.99">0.04</text>
<text x="114.59 133.37 143.21 162.34" y="141.63">0.03</text>
<text x="114.59 133.37 143.21 161.90" y="189.27">0.02</text>
<text x="114.59 133.37 143.21 162.13" y="236.91">0.01</text>
<text x="162.30" y="284.55">0</text>
<text x="103.23 114.59 133.37 143.21 162.13" y="332.19">-0.01</text>
<text x="195.69" y="366.7">0</text>
<text x="309.18" y="366.7">2</text>
<text x="423.47" y="366.7">4</text>
<text x="537.36" y="366.7">6</text>
<text x="651.25" y="366.7">8</text>
<text x="755.43 774.69" y="366.7">10</text>
<text x="505.05" y="417.0">k</text>
<text transform="translate(60.9,199.4) rotate(-90) scale(0.9345,1)" x="-0.71" y="0">ΔS</text>
</svg></body></html>
